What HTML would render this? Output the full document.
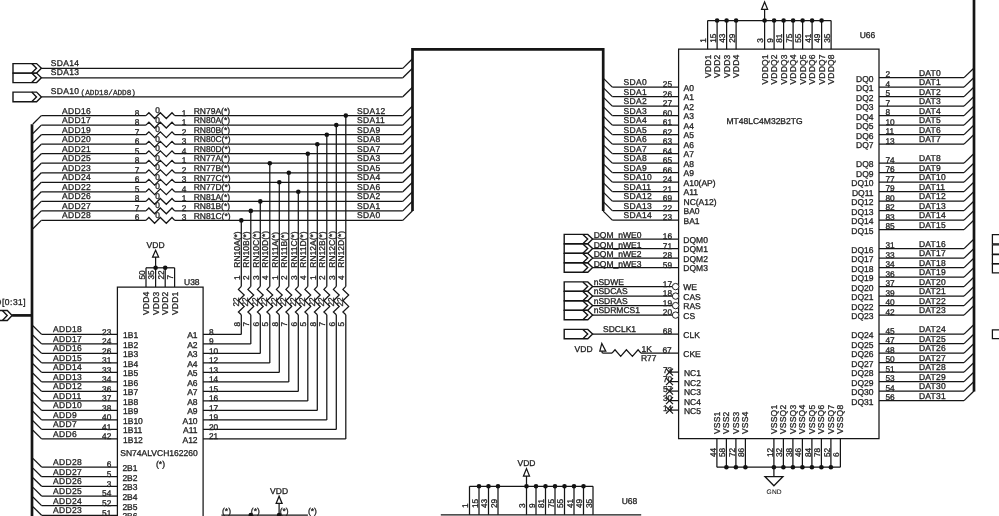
<!DOCTYPE html>
<html><head><meta charset="utf-8"><style>
html,body{margin:0;padding:0;background:#fff;width:999px;height:516px;overflow:hidden}
svg{display:block}
text{font-family:"Liberation Sans",sans-serif;stroke:#222;stroke-width:0.3px;text-rendering:geometricPrecision}
.mono{stroke-width:0.25px;font-family:"Liberation Mono",monospace}
.gnd{stroke-width:0.1px}
</style></head><body>
<svg width="999" height="516" viewBox="0 0 999 516" style="will-change:transform">
<rect width="999" height="516" fill="#fff"/>
<polygon points="13.0,63.6 36.6,63.6 41.4,68.3 36.6,73.1 13.0,73.1" stroke="#151515" stroke-width="1.4" fill="none" stroke-linejoin="miter"/>
<polyline points="31.7,63.6 36.5,68.3 31.7,73.1" stroke="#151515" stroke-width="1.4" fill="none" stroke-linejoin="miter"/>
<line x1="41.4" y1="68.4" x2="402.8" y2="68.4" stroke="#151515" stroke-width="1.25"/>
<line x1="402.8" y1="68.4" x2="412.5" y2="58.8" stroke="#151515" stroke-width="1.25"/>
<text x="50.8" y="66.0" font-size="8.5" letter-spacing="0.3" fill="#222">SDA14</text>
<polygon points="13.0,73.1 36.6,73.1 41.4,77.8 36.6,82.6 13.0,82.6" stroke="#151515" stroke-width="1.4" fill="none" stroke-linejoin="miter"/>
<polyline points="31.7,73.1 36.5,77.8 31.7,82.6" stroke="#151515" stroke-width="1.4" fill="none" stroke-linejoin="miter"/>
<line x1="41.4" y1="77.8" x2="402.8" y2="77.8" stroke="#151515" stroke-width="1.25"/>
<line x1="402.8" y1="77.8" x2="412.5" y2="68.2" stroke="#151515" stroke-width="1.25"/>
<text x="50.8" y="75.4" font-size="8.5" letter-spacing="0.3" fill="#222">SDA13</text>
<polygon points="13.0,92.1 36.6,92.1 41.4,96.9 36.6,101.7 13.0,101.7" stroke="#151515" stroke-width="1.4" fill="none" stroke-linejoin="miter"/>
<polyline points="31.7,92.1 36.5,96.9 31.7,101.7" stroke="#151515" stroke-width="1.4" fill="none" stroke-linejoin="miter"/>
<line x1="41.4" y1="96.8" x2="402.8" y2="96.8" stroke="#151515" stroke-width="1.25"/>
<line x1="402.8" y1="96.8" x2="412.5" y2="87.2" stroke="#151515" stroke-width="1.25"/>
<text x="50.8" y="94.4" font-size="8.5" letter-spacing="0.3" fill="#222">SDA10</text>
<text x="80.6" y="94.8" font-size="7.7" letter-spacing="0.0" font-family="Liberation Mono" class="mono" fill="#222">(ADD18/ADD8)</text>
<polyline points="412.5,211.0 412.5,49.3 603.2,49.3 603.2,211.0" stroke="#151515" stroke-width="2.7" fill="none" stroke-linejoin="miter"/>
<line x1="32.0" y1="124.3" x2="32.0" y2="516.0" stroke="#151515" stroke-width="2.7"/>
<line x1="12.1" y1="315.4" x2="32.0" y2="315.4" stroke="#151515" stroke-width="2.7"/>
<polygon points="-3.0,310.5 7.3,310.5 12.1,315.5 7.3,320.5 -3.0,320.5" stroke="#151515" stroke-width="1.4" fill="none" stroke-linejoin="miter"/>
<polyline points="2.4,310.5 7.2,315.5 2.4,320.5" stroke="#151515" stroke-width="1.4" fill="none" stroke-linejoin="miter"/>
<text x="26.2" y="304.7" font-size="8.5" letter-spacing="0.5" text-anchor="end" fill="#222">D[0:31]</text>
<line x1="41.3" y1="115.6" x2="145.9" y2="115.6" stroke="#151515" stroke-width="1.25"/>
<line x1="41.3" y1="115.6" x2="32.9" y2="124.0" stroke="#151515" stroke-width="1.25"/>
<polyline points="145.9,115.6 148.9,112.7 154.6,118.5 160.3,112.7 166.3,118.5 172.0,112.7 174.7,115.6" stroke="#151515" stroke-width="1.25" fill="none" stroke-linejoin="miter"/>
<line x1="174.7" y1="115.6" x2="402.8" y2="115.6" stroke="#151515" stroke-width="1.25"/>
<line x1="402.8" y1="115.6" x2="412.5" y2="106.0" stroke="#151515" stroke-width="1.25"/>
<text x="62.0" y="113.6" font-size="8.5" letter-spacing="0.35" fill="#222">ADD16</text>
<text x="134.8" y="115.5" font-size="8.3" letter-spacing="0" fill="#222">8</text>
<text x="155.2" y="113.0" font-size="8.3" letter-spacing="0" fill="#222">0</text>
<text x="181.7" y="115.5" font-size="8.3" letter-spacing="0" fill="#222">1</text>
<text x="193.7" y="113.8" font-size="8.5" letter-spacing="0" fill="#222">RN79A(*)</text>
<text x="357.0" y="113.6" font-size="8.5" letter-spacing="0.35" fill="#222">SDA12</text>
<line x1="41.3" y1="125.1" x2="145.9" y2="125.1" stroke="#151515" stroke-width="1.25"/>
<line x1="41.3" y1="125.1" x2="32.9" y2="133.5" stroke="#151515" stroke-width="1.25"/>
<polyline points="145.9,125.1 148.9,122.2 154.6,128.0 160.3,122.2 166.3,128.0 172.0,122.2 174.7,125.1" stroke="#151515" stroke-width="1.25" fill="none" stroke-linejoin="miter"/>
<line x1="174.7" y1="125.1" x2="402.8" y2="125.1" stroke="#151515" stroke-width="1.25"/>
<line x1="402.8" y1="125.1" x2="412.5" y2="115.5" stroke="#151515" stroke-width="1.25"/>
<text x="62.0" y="123.1" font-size="8.5" letter-spacing="0.35" fill="#222">ADD17</text>
<text x="134.8" y="125.0" font-size="8.3" letter-spacing="0" fill="#222">8</text>
<text x="155.2" y="122.5" font-size="8.3" letter-spacing="0" fill="#222">0</text>
<text x="181.7" y="125.0" font-size="8.3" letter-spacing="0" fill="#222">1</text>
<text x="193.7" y="123.3" font-size="8.5" letter-spacing="0" fill="#222">RN80A(*)</text>
<text x="357.0" y="123.1" font-size="8.5" letter-spacing="0.35" fill="#222">SDA11</text>
<line x1="41.3" y1="134.7" x2="145.9" y2="134.7" stroke="#151515" stroke-width="1.25"/>
<line x1="41.3" y1="134.7" x2="32.9" y2="143.1" stroke="#151515" stroke-width="1.25"/>
<polyline points="145.9,134.7 148.9,131.8 154.6,137.6 160.3,131.8 166.3,137.6 172.0,131.8 174.7,134.7" stroke="#151515" stroke-width="1.25" fill="none" stroke-linejoin="miter"/>
<line x1="174.7" y1="134.7" x2="402.8" y2="134.7" stroke="#151515" stroke-width="1.25"/>
<line x1="402.8" y1="134.7" x2="412.5" y2="125.1" stroke="#151515" stroke-width="1.25"/>
<text x="62.0" y="132.7" font-size="8.5" letter-spacing="0.35" fill="#222">ADD19</text>
<text x="134.8" y="134.6" font-size="8.3" letter-spacing="0" fill="#222">7</text>
<text x="155.2" y="132.1" font-size="8.3" letter-spacing="0" fill="#222">0</text>
<text x="181.7" y="134.6" font-size="8.3" letter-spacing="0" fill="#222">2</text>
<text x="193.7" y="132.9" font-size="8.5" letter-spacing="0" fill="#222">RN80B(*)</text>
<text x="357.0" y="132.7" font-size="8.5" letter-spacing="0.35" fill="#222">SDA9</text>
<line x1="41.3" y1="144.2" x2="145.9" y2="144.2" stroke="#151515" stroke-width="1.25"/>
<line x1="41.3" y1="144.2" x2="32.9" y2="152.6" stroke="#151515" stroke-width="1.25"/>
<polyline points="145.9,144.2 148.9,141.3 154.6,147.1 160.3,141.3 166.3,147.1 172.0,141.3 174.7,144.2" stroke="#151515" stroke-width="1.25" fill="none" stroke-linejoin="miter"/>
<line x1="174.7" y1="144.2" x2="402.8" y2="144.2" stroke="#151515" stroke-width="1.25"/>
<line x1="402.8" y1="144.2" x2="412.5" y2="134.6" stroke="#151515" stroke-width="1.25"/>
<text x="62.0" y="142.2" font-size="8.5" letter-spacing="0.35" fill="#222">ADD20</text>
<text x="134.8" y="144.1" font-size="8.3" letter-spacing="0" fill="#222">6</text>
<text x="155.2" y="141.6" font-size="8.3" letter-spacing="0" fill="#222">0</text>
<text x="181.7" y="144.1" font-size="8.3" letter-spacing="0" fill="#222">3</text>
<text x="193.7" y="142.4" font-size="8.5" letter-spacing="0" fill="#222">RN80C(*)</text>
<text x="357.0" y="142.2" font-size="8.5" letter-spacing="0.35" fill="#222">SDA8</text>
<line x1="41.3" y1="153.7" x2="145.9" y2="153.7" stroke="#151515" stroke-width="1.25"/>
<line x1="41.3" y1="153.7" x2="32.9" y2="162.1" stroke="#151515" stroke-width="1.25"/>
<polyline points="145.9,153.7 148.9,150.8 154.6,156.6 160.3,150.8 166.3,156.6 172.0,150.8 174.7,153.7" stroke="#151515" stroke-width="1.25" fill="none" stroke-linejoin="miter"/>
<line x1="174.7" y1="153.7" x2="402.8" y2="153.7" stroke="#151515" stroke-width="1.25"/>
<line x1="402.8" y1="153.7" x2="412.5" y2="144.1" stroke="#151515" stroke-width="1.25"/>
<text x="62.0" y="151.7" font-size="8.5" letter-spacing="0.35" fill="#222">ADD21</text>
<text x="134.8" y="153.6" font-size="8.3" letter-spacing="0" fill="#222">5</text>
<text x="155.2" y="151.1" font-size="8.3" letter-spacing="0" fill="#222">0</text>
<text x="181.7" y="153.6" font-size="8.3" letter-spacing="0" fill="#222">4</text>
<text x="193.7" y="151.9" font-size="8.5" letter-spacing="0" fill="#222">RN80D(*)</text>
<text x="357.0" y="151.7" font-size="8.5" letter-spacing="0.35" fill="#222">SDA7</text>
<line x1="41.3" y1="163.2" x2="145.9" y2="163.2" stroke="#151515" stroke-width="1.25"/>
<line x1="41.3" y1="163.2" x2="32.9" y2="171.7" stroke="#151515" stroke-width="1.25"/>
<polyline points="145.9,163.2 148.9,160.3 154.6,166.2 160.3,160.3 166.3,166.2 172.0,160.3 174.7,163.2" stroke="#151515" stroke-width="1.25" fill="none" stroke-linejoin="miter"/>
<line x1="174.7" y1="163.2" x2="402.8" y2="163.2" stroke="#151515" stroke-width="1.25"/>
<line x1="402.8" y1="163.2" x2="412.5" y2="153.7" stroke="#151515" stroke-width="1.25"/>
<text x="62.0" y="161.2" font-size="8.5" letter-spacing="0.35" fill="#222">ADD25</text>
<text x="134.8" y="163.2" font-size="8.3" letter-spacing="0" fill="#222">8</text>
<text x="155.2" y="160.7" font-size="8.3" letter-spacing="0" fill="#222">0</text>
<text x="181.7" y="163.2" font-size="8.3" letter-spacing="0" fill="#222">1</text>
<text x="193.7" y="161.4" font-size="8.5" letter-spacing="0" fill="#222">RN77A(*)</text>
<text x="357.0" y="161.2" font-size="8.5" letter-spacing="0.35" fill="#222">SDA3</text>
<line x1="41.3" y1="172.8" x2="145.9" y2="172.8" stroke="#151515" stroke-width="1.25"/>
<line x1="41.3" y1="172.8" x2="32.9" y2="181.2" stroke="#151515" stroke-width="1.25"/>
<polyline points="145.9,172.8 148.9,169.9 154.6,175.7 160.3,169.9 166.3,175.7 172.0,169.9 174.7,172.8" stroke="#151515" stroke-width="1.25" fill="none" stroke-linejoin="miter"/>
<line x1="174.7" y1="172.8" x2="402.8" y2="172.8" stroke="#151515" stroke-width="1.25"/>
<line x1="402.8" y1="172.8" x2="412.5" y2="163.2" stroke="#151515" stroke-width="1.25"/>
<text x="62.0" y="170.8" font-size="8.5" letter-spacing="0.35" fill="#222">ADD23</text>
<text x="134.8" y="172.7" font-size="8.3" letter-spacing="0" fill="#222">7</text>
<text x="155.2" y="170.2" font-size="8.3" letter-spacing="0" fill="#222">0</text>
<text x="181.7" y="172.7" font-size="8.3" letter-spacing="0" fill="#222">2</text>
<text x="193.7" y="171.0" font-size="8.5" letter-spacing="0" fill="#222">RN77B(*)</text>
<text x="357.0" y="170.8" font-size="8.5" letter-spacing="0.35" fill="#222">SDA5</text>
<line x1="41.3" y1="182.3" x2="145.9" y2="182.3" stroke="#151515" stroke-width="1.25"/>
<line x1="41.3" y1="182.3" x2="32.9" y2="190.7" stroke="#151515" stroke-width="1.25"/>
<polyline points="145.9,182.3 148.9,179.4 154.6,185.2 160.3,179.4 166.3,185.2 172.0,179.4 174.7,182.3" stroke="#151515" stroke-width="1.25" fill="none" stroke-linejoin="miter"/>
<line x1="174.7" y1="182.3" x2="402.8" y2="182.3" stroke="#151515" stroke-width="1.25"/>
<line x1="402.8" y1="182.3" x2="412.5" y2="172.7" stroke="#151515" stroke-width="1.25"/>
<text x="62.0" y="180.3" font-size="8.5" letter-spacing="0.35" fill="#222">ADD24</text>
<text x="134.8" y="182.2" font-size="8.3" letter-spacing="0" fill="#222">6</text>
<text x="155.2" y="179.7" font-size="8.3" letter-spacing="0" fill="#222">0</text>
<text x="181.7" y="182.2" font-size="8.3" letter-spacing="0" fill="#222">3</text>
<text x="193.7" y="180.5" font-size="8.5" letter-spacing="0" fill="#222">RN77C(*)</text>
<text x="357.0" y="180.3" font-size="8.5" letter-spacing="0.35" fill="#222">SDA4</text>
<line x1="41.3" y1="191.8" x2="145.9" y2="191.8" stroke="#151515" stroke-width="1.25"/>
<line x1="41.3" y1="191.8" x2="32.9" y2="200.2" stroke="#151515" stroke-width="1.25"/>
<polyline points="145.9,191.8 148.9,188.9 154.6,194.7 160.3,188.9 166.3,194.7 172.0,188.9 174.7,191.8" stroke="#151515" stroke-width="1.25" fill="none" stroke-linejoin="miter"/>
<line x1="174.7" y1="191.8" x2="402.8" y2="191.8" stroke="#151515" stroke-width="1.25"/>
<line x1="402.8" y1="191.8" x2="412.5" y2="182.2" stroke="#151515" stroke-width="1.25"/>
<text x="62.0" y="189.8" font-size="8.5" letter-spacing="0.35" fill="#222">ADD22</text>
<text x="134.8" y="191.7" font-size="8.3" letter-spacing="0" fill="#222">5</text>
<text x="155.2" y="189.2" font-size="8.3" letter-spacing="0" fill="#222">0</text>
<text x="181.7" y="191.7" font-size="8.3" letter-spacing="0" fill="#222">4</text>
<text x="193.7" y="190.0" font-size="8.5" letter-spacing="0" fill="#222">RN77D(*)</text>
<text x="357.0" y="189.8" font-size="8.5" letter-spacing="0.35" fill="#222">SDA6</text>
<line x1="41.3" y1="201.4" x2="145.9" y2="201.4" stroke="#151515" stroke-width="1.25"/>
<line x1="41.3" y1="201.4" x2="32.9" y2="209.8" stroke="#151515" stroke-width="1.25"/>
<polyline points="145.9,201.4 148.9,198.5 154.6,204.3 160.3,198.5 166.3,204.3 172.0,198.5 174.7,201.4" stroke="#151515" stroke-width="1.25" fill="none" stroke-linejoin="miter"/>
<line x1="174.7" y1="201.4" x2="402.8" y2="201.4" stroke="#151515" stroke-width="1.25"/>
<line x1="402.8" y1="201.4" x2="412.5" y2="191.8" stroke="#151515" stroke-width="1.25"/>
<text x="62.0" y="199.4" font-size="8.5" letter-spacing="0.35" fill="#222">ADD26</text>
<text x="134.8" y="201.3" font-size="8.3" letter-spacing="0" fill="#222">8</text>
<text x="155.2" y="198.8" font-size="8.3" letter-spacing="0" fill="#222">0</text>
<text x="181.7" y="201.3" font-size="8.3" letter-spacing="0" fill="#222">1</text>
<text x="193.7" y="199.6" font-size="8.5" letter-spacing="0" fill="#222">RN81A(*)</text>
<text x="357.0" y="199.4" font-size="8.5" letter-spacing="0.35" fill="#222">SDA2</text>
<line x1="41.3" y1="210.9" x2="145.9" y2="210.9" stroke="#151515" stroke-width="1.25"/>
<line x1="41.3" y1="210.9" x2="32.9" y2="219.3" stroke="#151515" stroke-width="1.25"/>
<polyline points="145.9,210.9 148.9,208.0 154.6,213.8 160.3,208.0 166.3,213.8 172.0,208.0 174.7,210.9" stroke="#151515" stroke-width="1.25" fill="none" stroke-linejoin="miter"/>
<line x1="174.7" y1="210.9" x2="402.8" y2="210.9" stroke="#151515" stroke-width="1.25"/>
<line x1="402.8" y1="210.9" x2="412.5" y2="201.3" stroke="#151515" stroke-width="1.25"/>
<text x="62.0" y="208.9" font-size="8.5" letter-spacing="0.35" fill="#222">ADD27</text>
<text x="134.8" y="210.8" font-size="8.3" letter-spacing="0" fill="#222">7</text>
<text x="155.2" y="208.3" font-size="8.3" letter-spacing="0" fill="#222">0</text>
<text x="181.7" y="210.8" font-size="8.3" letter-spacing="0" fill="#222">2</text>
<text x="193.7" y="209.1" font-size="8.5" letter-spacing="0" fill="#222">RN81B(*)</text>
<text x="357.0" y="208.9" font-size="8.5" letter-spacing="0.35" fill="#222">SDA1</text>
<line x1="41.3" y1="220.4" x2="145.9" y2="220.4" stroke="#151515" stroke-width="1.25"/>
<line x1="41.3" y1="220.4" x2="32.9" y2="228.8" stroke="#151515" stroke-width="1.25"/>
<polyline points="145.9,220.4 148.9,217.5 154.6,223.3 160.3,217.5 166.3,223.3 172.0,217.5 174.7,220.4" stroke="#151515" stroke-width="1.25" fill="none" stroke-linejoin="miter"/>
<line x1="174.7" y1="220.4" x2="402.8" y2="220.4" stroke="#151515" stroke-width="1.25"/>
<line x1="402.8" y1="220.4" x2="412.5" y2="210.8" stroke="#151515" stroke-width="1.25"/>
<text x="62.0" y="218.4" font-size="8.5" letter-spacing="0.35" fill="#222">ADD28</text>
<text x="134.8" y="220.3" font-size="8.3" letter-spacing="0" fill="#222">6</text>
<text x="155.2" y="217.8" font-size="8.3" letter-spacing="0" fill="#222">0</text>
<text x="181.7" y="220.3" font-size="8.3" letter-spacing="0" fill="#222">3</text>
<text x="193.7" y="218.6" font-size="8.5" letter-spacing="0" fill="#222">RN81C(*)</text>
<text x="357.0" y="218.4" font-size="8.5" letter-spacing="0.35" fill="#222">SDA0</text>
<circle cx="241.3" cy="220.4" r="2.3" fill="#111"/>
<line x1="241.3" y1="220.4" x2="241.3" y2="286.4" stroke="#151515" stroke-width="1.25"/>
<polyline points="241.3,286.4 238.4,289.4 244.2,295.0 238.4,300.7 244.2,306.4 238.4,312.0 241.3,314.7" stroke="#151515" stroke-width="1.25" fill="none" stroke-linejoin="miter"/>
<line x1="241.3" y1="314.7" x2="241.3" y2="334.4" stroke="#151515" stroke-width="1.25"/>
<line x1="203.1" y1="334.4" x2="241.3" y2="334.4" stroke="#151515" stroke-width="1.25"/>
<text transform="translate(239.8,267.7) rotate(-90)" font-size="8.5" letter-spacing="0" fill="#222">RN10A(*)</text>
<text transform="translate(239.8,280.0) rotate(-90)" font-size="8.3" letter-spacing="0" fill="#222">1</text>
<text transform="translate(239.8,326.5) rotate(-90)" font-size="8.3" letter-spacing="0" fill="#222">8</text>
<text transform="translate(238.7,306.5) rotate(-90)" font-size="8.3" letter-spacing="0" fill="#222">22</text>
<circle cx="250.8" cy="210.9" r="2.3" fill="#111"/>
<line x1="250.8" y1="210.9" x2="250.8" y2="286.4" stroke="#151515" stroke-width="1.25"/>
<polyline points="250.8,286.4 247.9,289.4 253.7,295.0 247.9,300.7 253.7,306.4 247.9,312.0 250.8,314.7" stroke="#151515" stroke-width="1.25" fill="none" stroke-linejoin="miter"/>
<line x1="250.8" y1="314.7" x2="250.8" y2="343.9" stroke="#151515" stroke-width="1.25"/>
<line x1="203.1" y1="343.9" x2="250.8" y2="343.9" stroke="#151515" stroke-width="1.25"/>
<text transform="translate(249.3,267.7) rotate(-90)" font-size="8.5" letter-spacing="0" fill="#222">RN10B(*)</text>
<text transform="translate(249.3,280.0) rotate(-90)" font-size="8.3" letter-spacing="0" fill="#222">2</text>
<text transform="translate(249.3,326.5) rotate(-90)" font-size="8.3" letter-spacing="0" fill="#222">7</text>
<text transform="translate(248.2,306.5) rotate(-90)" font-size="8.3" letter-spacing="0" fill="#222">22</text>
<circle cx="260.3" cy="201.4" r="2.3" fill="#111"/>
<line x1="260.3" y1="201.4" x2="260.3" y2="286.4" stroke="#151515" stroke-width="1.25"/>
<polyline points="260.3,286.4 257.4,289.4 263.2,295.0 257.4,300.7 263.2,306.4 257.4,312.0 260.3,314.7" stroke="#151515" stroke-width="1.25" fill="none" stroke-linejoin="miter"/>
<line x1="260.3" y1="314.7" x2="260.3" y2="353.4" stroke="#151515" stroke-width="1.25"/>
<line x1="203.1" y1="353.4" x2="260.3" y2="353.4" stroke="#151515" stroke-width="1.25"/>
<text transform="translate(258.8,267.7) rotate(-90)" font-size="8.5" letter-spacing="0" fill="#222">RN10C(*)</text>
<text transform="translate(258.8,280.0) rotate(-90)" font-size="8.3" letter-spacing="0" fill="#222">3</text>
<text transform="translate(258.8,326.5) rotate(-90)" font-size="8.3" letter-spacing="0" fill="#222">6</text>
<text transform="translate(257.7,306.5) rotate(-90)" font-size="8.3" letter-spacing="0" fill="#222">22</text>
<circle cx="269.8" cy="163.2" r="2.3" fill="#111"/>
<line x1="269.8" y1="163.2" x2="269.8" y2="286.4" stroke="#151515" stroke-width="1.25"/>
<polyline points="269.8,286.4 266.9,289.4 272.7,295.0 266.9,300.7 272.7,306.4 266.9,312.0 269.8,314.7" stroke="#151515" stroke-width="1.25" fill="none" stroke-linejoin="miter"/>
<line x1="269.8" y1="314.7" x2="269.8" y2="362.9" stroke="#151515" stroke-width="1.25"/>
<line x1="203.1" y1="362.9" x2="269.8" y2="362.9" stroke="#151515" stroke-width="1.25"/>
<text transform="translate(268.3,267.7) rotate(-90)" font-size="8.5" letter-spacing="0" fill="#222">RN10D(*)</text>
<text transform="translate(268.3,280.0) rotate(-90)" font-size="8.3" letter-spacing="0" fill="#222">4</text>
<text transform="translate(268.3,326.5) rotate(-90)" font-size="8.3" letter-spacing="0" fill="#222">5</text>
<text transform="translate(267.2,306.5) rotate(-90)" font-size="8.3" letter-spacing="0" fill="#222">22</text>
<circle cx="279.3" cy="182.3" r="2.3" fill="#111"/>
<line x1="279.3" y1="182.3" x2="279.3" y2="286.4" stroke="#151515" stroke-width="1.25"/>
<polyline points="279.3,286.4 276.4,289.4 282.2,295.0 276.4,300.7 282.2,306.4 276.4,312.0 279.3,314.7" stroke="#151515" stroke-width="1.25" fill="none" stroke-linejoin="miter"/>
<line x1="279.3" y1="314.7" x2="279.3" y2="372.4" stroke="#151515" stroke-width="1.25"/>
<line x1="203.1" y1="372.4" x2="279.3" y2="372.4" stroke="#151515" stroke-width="1.25"/>
<text transform="translate(277.8,267.7) rotate(-90)" font-size="8.5" letter-spacing="0" fill="#222">RN11A(*)</text>
<text transform="translate(277.8,280.0) rotate(-90)" font-size="8.3" letter-spacing="0" fill="#222">1</text>
<text transform="translate(277.8,326.5) rotate(-90)" font-size="8.3" letter-spacing="0" fill="#222">8</text>
<text transform="translate(276.7,306.5) rotate(-90)" font-size="8.3" letter-spacing="0" fill="#222">22</text>
<circle cx="288.8" cy="172.8" r="2.3" fill="#111"/>
<line x1="288.8" y1="172.8" x2="288.8" y2="286.4" stroke="#151515" stroke-width="1.25"/>
<polyline points="288.8,286.4 285.9,289.4 291.7,295.0 285.9,300.7 291.7,306.4 285.9,312.0 288.8,314.7" stroke="#151515" stroke-width="1.25" fill="none" stroke-linejoin="miter"/>
<line x1="288.8" y1="314.7" x2="288.8" y2="381.9" stroke="#151515" stroke-width="1.25"/>
<line x1="203.1" y1="381.9" x2="288.8" y2="381.9" stroke="#151515" stroke-width="1.25"/>
<text transform="translate(287.3,267.7) rotate(-90)" font-size="8.5" letter-spacing="0" fill="#222">RN11B(*)</text>
<text transform="translate(287.3,280.0) rotate(-90)" font-size="8.3" letter-spacing="0" fill="#222">2</text>
<text transform="translate(287.3,326.5) rotate(-90)" font-size="8.3" letter-spacing="0" fill="#222">7</text>
<text transform="translate(286.2,306.5) rotate(-90)" font-size="8.3" letter-spacing="0" fill="#222">22</text>
<circle cx="298.3" cy="191.8" r="2.3" fill="#111"/>
<line x1="298.3" y1="191.8" x2="298.3" y2="286.4" stroke="#151515" stroke-width="1.25"/>
<polyline points="298.3,286.4 295.4,289.4 301.2,295.0 295.4,300.7 301.2,306.4 295.4,312.0 298.3,314.7" stroke="#151515" stroke-width="1.25" fill="none" stroke-linejoin="miter"/>
<line x1="298.3" y1="314.7" x2="298.3" y2="391.4" stroke="#151515" stroke-width="1.25"/>
<line x1="203.1" y1="391.4" x2="298.3" y2="391.4" stroke="#151515" stroke-width="1.25"/>
<text transform="translate(296.8,267.7) rotate(-90)" font-size="8.5" letter-spacing="0" fill="#222">RN11C(*)</text>
<text transform="translate(296.8,280.0) rotate(-90)" font-size="8.3" letter-spacing="0" fill="#222">3</text>
<text transform="translate(296.8,326.5) rotate(-90)" font-size="8.3" letter-spacing="0" fill="#222">6</text>
<text transform="translate(295.7,306.5) rotate(-90)" font-size="8.3" letter-spacing="0" fill="#222">22</text>
<circle cx="307.8" cy="153.7" r="2.3" fill="#111"/>
<line x1="307.8" y1="153.7" x2="307.8" y2="286.4" stroke="#151515" stroke-width="1.25"/>
<polyline points="307.8,286.4 304.9,289.4 310.7,295.0 304.9,300.7 310.7,306.4 304.9,312.0 307.8,314.7" stroke="#151515" stroke-width="1.25" fill="none" stroke-linejoin="miter"/>
<line x1="307.8" y1="314.7" x2="307.8" y2="400.9" stroke="#151515" stroke-width="1.25"/>
<line x1="203.1" y1="400.9" x2="307.8" y2="400.9" stroke="#151515" stroke-width="1.25"/>
<text transform="translate(306.3,267.7) rotate(-90)" font-size="8.5" letter-spacing="0" fill="#222">RN11D(*)</text>
<text transform="translate(306.3,280.0) rotate(-90)" font-size="8.3" letter-spacing="0" fill="#222">4</text>
<text transform="translate(306.3,326.5) rotate(-90)" font-size="8.3" letter-spacing="0" fill="#222">5</text>
<text transform="translate(305.2,306.5) rotate(-90)" font-size="8.3" letter-spacing="0" fill="#222">22</text>
<circle cx="317.3" cy="144.2" r="2.3" fill="#111"/>
<line x1="317.3" y1="144.2" x2="317.3" y2="286.4" stroke="#151515" stroke-width="1.25"/>
<polyline points="317.3,286.4 314.4,289.4 320.2,295.0 314.4,300.7 320.2,306.4 314.4,312.0 317.3,314.7" stroke="#151515" stroke-width="1.25" fill="none" stroke-linejoin="miter"/>
<line x1="317.3" y1="314.7" x2="317.3" y2="410.4" stroke="#151515" stroke-width="1.25"/>
<line x1="203.1" y1="410.4" x2="317.3" y2="410.4" stroke="#151515" stroke-width="1.25"/>
<text transform="translate(315.8,267.7) rotate(-90)" font-size="8.5" letter-spacing="0" fill="#222">RN12A(*)</text>
<text transform="translate(315.8,280.0) rotate(-90)" font-size="8.3" letter-spacing="0" fill="#222">1</text>
<text transform="translate(315.8,326.5) rotate(-90)" font-size="8.3" letter-spacing="0" fill="#222">8</text>
<text transform="translate(314.7,306.5) rotate(-90)" font-size="8.3" letter-spacing="0" fill="#222">22</text>
<circle cx="326.8" cy="134.7" r="2.3" fill="#111"/>
<line x1="326.8" y1="134.7" x2="326.8" y2="286.4" stroke="#151515" stroke-width="1.25"/>
<polyline points="326.8,286.4 323.9,289.4 329.7,295.0 323.9,300.7 329.7,306.4 323.9,312.0 326.8,314.7" stroke="#151515" stroke-width="1.25" fill="none" stroke-linejoin="miter"/>
<line x1="326.8" y1="314.7" x2="326.8" y2="419.9" stroke="#151515" stroke-width="1.25"/>
<line x1="203.1" y1="419.9" x2="326.8" y2="419.9" stroke="#151515" stroke-width="1.25"/>
<text transform="translate(325.3,267.7) rotate(-90)" font-size="8.5" letter-spacing="0" fill="#222">RN12B(*)</text>
<text transform="translate(325.3,280.0) rotate(-90)" font-size="8.3" letter-spacing="0" fill="#222">2</text>
<text transform="translate(325.3,326.5) rotate(-90)" font-size="8.3" letter-spacing="0" fill="#222">7</text>
<text transform="translate(324.2,306.5) rotate(-90)" font-size="8.3" letter-spacing="0" fill="#222">22</text>
<circle cx="336.3" cy="125.1" r="2.3" fill="#111"/>
<line x1="336.3" y1="125.1" x2="336.3" y2="286.4" stroke="#151515" stroke-width="1.25"/>
<polyline points="336.3,286.4 333.4,289.4 339.2,295.0 333.4,300.7 339.2,306.4 333.4,312.0 336.3,314.7" stroke="#151515" stroke-width="1.25" fill="none" stroke-linejoin="miter"/>
<line x1="336.3" y1="314.7" x2="336.3" y2="429.4" stroke="#151515" stroke-width="1.25"/>
<line x1="203.1" y1="429.4" x2="336.3" y2="429.4" stroke="#151515" stroke-width="1.25"/>
<text transform="translate(334.8,267.7) rotate(-90)" font-size="8.5" letter-spacing="0" fill="#222">RN12C(*)</text>
<text transform="translate(334.8,280.0) rotate(-90)" font-size="8.3" letter-spacing="0" fill="#222">3</text>
<text transform="translate(334.8,326.5) rotate(-90)" font-size="8.3" letter-spacing="0" fill="#222">6</text>
<text transform="translate(333.7,306.5) rotate(-90)" font-size="8.3" letter-spacing="0" fill="#222">22</text>
<circle cx="345.8" cy="115.6" r="2.3" fill="#111"/>
<line x1="345.8" y1="115.6" x2="345.8" y2="286.4" stroke="#151515" stroke-width="1.25"/>
<polyline points="345.8,286.4 342.9,289.4 348.7,295.0 342.9,300.7 348.7,306.4 342.9,312.0 345.8,314.7" stroke="#151515" stroke-width="1.25" fill="none" stroke-linejoin="miter"/>
<line x1="345.8" y1="314.7" x2="345.8" y2="438.9" stroke="#151515" stroke-width="1.25"/>
<line x1="203.1" y1="438.9" x2="345.8" y2="438.9" stroke="#151515" stroke-width="1.25"/>
<text transform="translate(344.3,267.7) rotate(-90)" font-size="8.5" letter-spacing="0" fill="#222">RN12D(*)</text>
<text transform="translate(344.3,280.0) rotate(-90)" font-size="8.3" letter-spacing="0" fill="#222">4</text>
<text transform="translate(344.3,326.5) rotate(-90)" font-size="8.3" letter-spacing="0" fill="#222">5</text>
<text transform="translate(343.2,306.5) rotate(-90)" font-size="8.3" letter-spacing="0" fill="#222">22</text>
<polyline points="117.4,520.0 117.4,287.0 203.1,287.0 203.1,520.0" stroke="#151515" stroke-width="1.25" fill="none" stroke-linejoin="miter"/>
<text x="184.0" y="285.2" font-size="8.5" letter-spacing="0" fill="#222">U38</text>
<line x1="146.0" y1="287.0" x2="146.0" y2="267.8" stroke="#151515" stroke-width="1.25"/>
<line x1="155.6" y1="287.0" x2="155.6" y2="267.8" stroke="#151515" stroke-width="1.25"/>
<line x1="165.2" y1="287.0" x2="165.2" y2="267.8" stroke="#151515" stroke-width="1.25"/>
<line x1="174.6" y1="287.0" x2="174.6" y2="267.8" stroke="#151515" stroke-width="1.25"/>
<line x1="146.0" y1="267.8" x2="174.6" y2="267.8" stroke="#151515" stroke-width="1.25"/>
<circle cx="155.6" cy="267.8" r="2.3" fill="#111"/>
<circle cx="165.2" cy="267.8" r="2.3" fill="#111"/>
<line x1="155.6" y1="267.8" x2="155.6" y2="257.0" stroke="#151515" stroke-width="1.25"/>
<polygon points="152.6,257.0 155.6,250.2 158.6,257.0" stroke="#151515" stroke-width="1.25" fill="#fff" stroke-linejoin="miter"/>
<text x="155.6" y="247.6" font-size="8.5" letter-spacing="0" text-anchor="middle" fill="#222">VDD</text>
<text transform="translate(144.8,279.5) rotate(-90)" font-size="8.3" letter-spacing="0" fill="#222">50</text>
<text transform="translate(149.0,315.0) rotate(-90)" font-size="8.5" letter-spacing="0.2" fill="#222">VDD4</text>
<text transform="translate(154.4,279.5) rotate(-90)" font-size="8.3" letter-spacing="0" fill="#222">35</text>
<text transform="translate(158.6,315.0) rotate(-90)" font-size="8.5" letter-spacing="0.2" fill="#222">VDD3</text>
<text transform="translate(164.0,279.5) rotate(-90)" font-size="8.3" letter-spacing="0" fill="#222">22</text>
<text transform="translate(168.2,315.0) rotate(-90)" font-size="8.5" letter-spacing="0.2" fill="#222">VDD2</text>
<text transform="translate(173.4,279.5) rotate(-90)" font-size="8.3" letter-spacing="0" fill="#222">7</text>
<text transform="translate(177.6,315.0) rotate(-90)" font-size="8.5" letter-spacing="0.2" fill="#222">VDD1</text>
<line x1="32.9" y1="325.8" x2="41.6" y2="334.4" stroke="#151515" stroke-width="1.25"/>
<line x1="41.6" y1="334.4" x2="117.4" y2="334.4" stroke="#151515" stroke-width="1.25"/>
<text x="53.0" y="332.4" font-size="8.5" letter-spacing="0.35" fill="#222">ADD18</text>
<text x="111.3" y="334.6" font-size="8.3" letter-spacing="0" text-anchor="end" fill="#222">23</text>
<text x="123.0" y="338.0" font-size="8.5" letter-spacing="0" fill="#222">1B1</text>
<text x="197.6" y="338.0" font-size="8.5" letter-spacing="0" text-anchor="end" fill="#222">A1</text>
<text x="209.0" y="334.6" font-size="8.3" letter-spacing="0" fill="#222">8</text>
<line x1="32.9" y1="335.3" x2="41.6" y2="343.9" stroke="#151515" stroke-width="1.25"/>
<line x1="41.6" y1="343.9" x2="117.4" y2="343.9" stroke="#151515" stroke-width="1.25"/>
<text x="53.0" y="341.9" font-size="8.5" letter-spacing="0.35" fill="#222">ADD17</text>
<text x="111.3" y="344.1" font-size="8.3" letter-spacing="0" text-anchor="end" fill="#222">24</text>
<text x="123.0" y="347.5" font-size="8.5" letter-spacing="0" fill="#222">1B2</text>
<text x="197.6" y="347.5" font-size="8.5" letter-spacing="0" text-anchor="end" fill="#222">A2</text>
<text x="209.0" y="344.1" font-size="8.3" letter-spacing="0" fill="#222">9</text>
<line x1="32.9" y1="344.8" x2="41.6" y2="353.4" stroke="#151515" stroke-width="1.25"/>
<line x1="41.6" y1="353.4" x2="117.4" y2="353.4" stroke="#151515" stroke-width="1.25"/>
<text x="53.0" y="351.4" font-size="8.5" letter-spacing="0.35" fill="#222">ADD16</text>
<text x="111.3" y="353.6" font-size="8.3" letter-spacing="0" text-anchor="end" fill="#222">26</text>
<text x="123.0" y="357.0" font-size="8.5" letter-spacing="0" fill="#222">1B3</text>
<text x="197.6" y="357.0" font-size="8.5" letter-spacing="0" text-anchor="end" fill="#222">A3</text>
<text x="209.0" y="353.6" font-size="8.3" letter-spacing="0" fill="#222">10</text>
<line x1="32.9" y1="354.3" x2="41.6" y2="362.9" stroke="#151515" stroke-width="1.25"/>
<line x1="41.6" y1="362.9" x2="117.4" y2="362.9" stroke="#151515" stroke-width="1.25"/>
<text x="53.0" y="360.9" font-size="8.5" letter-spacing="0.35" fill="#222">ADD15</text>
<text x="111.3" y="363.1" font-size="8.3" letter-spacing="0" text-anchor="end" fill="#222">31</text>
<text x="123.0" y="366.5" font-size="8.5" letter-spacing="0" fill="#222">1B4</text>
<text x="197.6" y="366.5" font-size="8.5" letter-spacing="0" text-anchor="end" fill="#222">A4</text>
<text x="209.0" y="363.1" font-size="8.3" letter-spacing="0" fill="#222">12</text>
<line x1="32.9" y1="363.8" x2="41.6" y2="372.4" stroke="#151515" stroke-width="1.25"/>
<line x1="41.6" y1="372.4" x2="117.4" y2="372.4" stroke="#151515" stroke-width="1.25"/>
<text x="53.0" y="370.4" font-size="8.5" letter-spacing="0.35" fill="#222">ADD14</text>
<text x="111.3" y="372.6" font-size="8.3" letter-spacing="0" text-anchor="end" fill="#222">33</text>
<text x="123.0" y="376.0" font-size="8.5" letter-spacing="0" fill="#222">1B5</text>
<text x="197.6" y="376.0" font-size="8.5" letter-spacing="0" text-anchor="end" fill="#222">A5</text>
<text x="209.0" y="372.6" font-size="8.3" letter-spacing="0" fill="#222">13</text>
<line x1="32.9" y1="373.3" x2="41.6" y2="381.9" stroke="#151515" stroke-width="1.25"/>
<line x1="41.6" y1="381.9" x2="117.4" y2="381.9" stroke="#151515" stroke-width="1.25"/>
<text x="53.0" y="379.9" font-size="8.5" letter-spacing="0.35" fill="#222">ADD13</text>
<text x="111.3" y="382.1" font-size="8.3" letter-spacing="0" text-anchor="end" fill="#222">34</text>
<text x="123.0" y="385.5" font-size="8.5" letter-spacing="0" fill="#222">1B6</text>
<text x="197.6" y="385.5" font-size="8.5" letter-spacing="0" text-anchor="end" fill="#222">A6</text>
<text x="209.0" y="382.1" font-size="8.3" letter-spacing="0" fill="#222">14</text>
<line x1="32.9" y1="382.8" x2="41.6" y2="391.4" stroke="#151515" stroke-width="1.25"/>
<line x1="41.6" y1="391.4" x2="117.4" y2="391.4" stroke="#151515" stroke-width="1.25"/>
<text x="53.0" y="389.4" font-size="8.5" letter-spacing="0.35" fill="#222">ADD12</text>
<text x="111.3" y="391.6" font-size="8.3" letter-spacing="0" text-anchor="end" fill="#222">36</text>
<text x="123.0" y="395.0" font-size="8.5" letter-spacing="0" fill="#222">1B7</text>
<text x="197.6" y="395.0" font-size="8.5" letter-spacing="0" text-anchor="end" fill="#222">A7</text>
<text x="209.0" y="391.6" font-size="8.3" letter-spacing="0" fill="#222">15</text>
<line x1="32.9" y1="392.3" x2="41.6" y2="400.9" stroke="#151515" stroke-width="1.25"/>
<line x1="41.6" y1="400.9" x2="117.4" y2="400.9" stroke="#151515" stroke-width="1.25"/>
<text x="53.0" y="398.9" font-size="8.5" letter-spacing="0.35" fill="#222">ADD11</text>
<text x="111.3" y="401.1" font-size="8.3" letter-spacing="0" text-anchor="end" fill="#222">37</text>
<text x="123.0" y="404.5" font-size="8.5" letter-spacing="0" fill="#222">1B8</text>
<text x="197.6" y="404.5" font-size="8.5" letter-spacing="0" text-anchor="end" fill="#222">A8</text>
<text x="209.0" y="401.1" font-size="8.3" letter-spacing="0" fill="#222">16</text>
<line x1="32.9" y1="401.8" x2="41.6" y2="410.4" stroke="#151515" stroke-width="1.25"/>
<line x1="41.6" y1="410.4" x2="117.4" y2="410.4" stroke="#151515" stroke-width="1.25"/>
<text x="53.0" y="408.4" font-size="8.5" letter-spacing="0.35" fill="#222">ADD10</text>
<text x="111.3" y="410.6" font-size="8.3" letter-spacing="0" text-anchor="end" fill="#222">38</text>
<text x="123.0" y="414.0" font-size="8.5" letter-spacing="0" fill="#222">1B9</text>
<text x="197.6" y="414.0" font-size="8.5" letter-spacing="0" text-anchor="end" fill="#222">A9</text>
<text x="209.0" y="410.6" font-size="8.3" letter-spacing="0" fill="#222">17</text>
<line x1="32.9" y1="411.3" x2="41.6" y2="419.9" stroke="#151515" stroke-width="1.25"/>
<line x1="41.6" y1="419.9" x2="117.4" y2="419.9" stroke="#151515" stroke-width="1.25"/>
<text x="53.0" y="417.9" font-size="8.5" letter-spacing="0.35" fill="#222">ADD9</text>
<text x="111.3" y="420.1" font-size="8.3" letter-spacing="0" text-anchor="end" fill="#222">40</text>
<text x="123.0" y="423.5" font-size="8.5" letter-spacing="0" fill="#222">1B10</text>
<text x="197.6" y="423.5" font-size="8.5" letter-spacing="0" text-anchor="end" fill="#222">A10</text>
<text x="209.0" y="420.1" font-size="8.3" letter-spacing="0" fill="#222">19</text>
<line x1="32.9" y1="420.8" x2="41.6" y2="429.4" stroke="#151515" stroke-width="1.25"/>
<line x1="41.6" y1="429.4" x2="117.4" y2="429.4" stroke="#151515" stroke-width="1.25"/>
<text x="53.0" y="427.4" font-size="8.5" letter-spacing="0.35" fill="#222">ADD7</text>
<text x="111.3" y="429.6" font-size="8.3" letter-spacing="0" text-anchor="end" fill="#222">41</text>
<text x="123.0" y="433.0" font-size="8.5" letter-spacing="0" fill="#222">1B11</text>
<text x="197.6" y="433.0" font-size="8.5" letter-spacing="0" text-anchor="end" fill="#222">A11</text>
<text x="209.0" y="429.6" font-size="8.3" letter-spacing="0" fill="#222">20</text>
<line x1="32.9" y1="430.3" x2="41.6" y2="438.9" stroke="#151515" stroke-width="1.25"/>
<line x1="41.6" y1="438.9" x2="117.4" y2="438.9" stroke="#151515" stroke-width="1.25"/>
<text x="53.0" y="436.9" font-size="8.5" letter-spacing="0.35" fill="#222">ADD6</text>
<text x="111.3" y="439.1" font-size="8.3" letter-spacing="0" text-anchor="end" fill="#222">42</text>
<text x="123.0" y="442.5" font-size="8.5" letter-spacing="0" fill="#222">1B12</text>
<text x="197.6" y="442.5" font-size="8.5" letter-spacing="0" text-anchor="end" fill="#222">A12</text>
<text x="209.0" y="439.1" font-size="8.3" letter-spacing="0" fill="#222">21</text>
<text x="120.3" y="455.6" font-size="8.5" letter-spacing="0" fill="#222">SN74ALVCH162260</text>
<text x="160.5" y="466.5" font-size="8.5" letter-spacing="0" text-anchor="middle" fill="#222">(*)</text>
<line x1="32.9" y1="458.4" x2="41.6" y2="467.0" stroke="#151515" stroke-width="1.25"/>
<line x1="41.6" y1="467.0" x2="117.4" y2="467.0" stroke="#151515" stroke-width="1.25"/>
<text x="53.0" y="465.0" font-size="8.5" letter-spacing="0.35" fill="#222">ADD28</text>
<text x="111.3" y="467.2" font-size="8.3" letter-spacing="0" text-anchor="end" fill="#222">6</text>
<text x="122.4" y="471.0" font-size="8.5" letter-spacing="0" fill="#222">2B1</text>
<line x1="32.9" y1="468.1" x2="41.6" y2="476.7" stroke="#151515" stroke-width="1.25"/>
<line x1="41.6" y1="476.7" x2="117.4" y2="476.7" stroke="#151515" stroke-width="1.25"/>
<text x="53.0" y="474.7" font-size="8.5" letter-spacing="0.35" fill="#222">ADD27</text>
<text x="111.3" y="476.9" font-size="8.3" letter-spacing="0" text-anchor="end" fill="#222">5</text>
<text x="122.4" y="480.7" font-size="8.5" letter-spacing="0" fill="#222">2B2</text>
<line x1="32.9" y1="477.7" x2="41.6" y2="486.3" stroke="#151515" stroke-width="1.25"/>
<line x1="41.6" y1="486.3" x2="117.4" y2="486.3" stroke="#151515" stroke-width="1.25"/>
<text x="53.0" y="484.3" font-size="8.5" letter-spacing="0.35" fill="#222">ADD26</text>
<text x="111.3" y="486.5" font-size="8.3" letter-spacing="0" text-anchor="end" fill="#222">3</text>
<text x="122.4" y="490.3" font-size="8.5" letter-spacing="0" fill="#222">2B3</text>
<line x1="32.9" y1="487.4" x2="41.6" y2="496.0" stroke="#151515" stroke-width="1.25"/>
<line x1="41.6" y1="496.0" x2="117.4" y2="496.0" stroke="#151515" stroke-width="1.25"/>
<text x="53.0" y="494.0" font-size="8.5" letter-spacing="0.35" fill="#222">ADD25</text>
<text x="111.3" y="496.2" font-size="8.3" letter-spacing="0" text-anchor="end" fill="#222">54</text>
<text x="122.4" y="500.0" font-size="8.5" letter-spacing="0" fill="#222">2B4</text>
<line x1="32.9" y1="497.0" x2="41.6" y2="505.6" stroke="#151515" stroke-width="1.25"/>
<line x1="41.6" y1="505.6" x2="117.4" y2="505.6" stroke="#151515" stroke-width="1.25"/>
<text x="53.0" y="503.6" font-size="8.5" letter-spacing="0.35" fill="#222">ADD24</text>
<text x="111.3" y="505.8" font-size="8.3" letter-spacing="0" text-anchor="end" fill="#222">52</text>
<text x="122.4" y="509.6" font-size="8.5" letter-spacing="0" fill="#222">2B5</text>
<line x1="32.9" y1="506.7" x2="41.6" y2="515.3" stroke="#151515" stroke-width="1.25"/>
<line x1="41.6" y1="515.3" x2="117.4" y2="515.3" stroke="#151515" stroke-width="1.25"/>
<text x="53.0" y="513.3" font-size="8.5" letter-spacing="0.35" fill="#222">ADD23</text>
<text x="111.3" y="515.5" font-size="8.3" letter-spacing="0" text-anchor="end" fill="#222">51</text>
<text x="122.4" y="519.3" font-size="8.5" letter-spacing="0" fill="#222">2B6</text>
<line x1="221.4" y1="515.1" x2="307.9" y2="515.1" stroke="#151515" stroke-width="1.25"/>
<circle cx="250.8" cy="515.1" r="2.3" fill="#111"/>
<circle cx="279.1" cy="515.1" r="2.3" fill="#111"/>
<line x1="279.1" y1="515.1" x2="279.1" y2="503.4" stroke="#151515" stroke-width="1.25"/>
<polygon points="276.1,503.4 279.1,496.2 282.1,503.4" stroke="#151515" stroke-width="1.25" fill="#fff" stroke-linejoin="miter"/>
<text x="279.1" y="494.4" font-size="8.5" letter-spacing="0" text-anchor="middle" fill="#222">VDD</text>
<text x="222.0" y="513.6" font-size="8.5" letter-spacing="0" fill="#222">(*)</text>
<text x="250.8" y="513.6" font-size="8.5" letter-spacing="0" fill="#222">(*)</text>
<text x="279.7" y="513.6" font-size="8.5" letter-spacing="0" fill="#222">(*)</text>
<text x="307.9" y="513.6" font-size="8.5" letter-spacing="0" fill="#222">(*)</text>
<polygon points="678.6,49.2 879.0,49.2 879.0,438.6 678.6,438.6" stroke="#151515" stroke-width="1.25" fill="none" stroke-linejoin="miter"/>
<text x="859.7" y="37.8" font-size="8.5" letter-spacing="0" fill="#222">U66</text>
<text x="726.5" y="123.5" font-size="8.5" letter-spacing="0" fill="#222">MT48LC4M32B2TG</text>
<line x1="603.2" y1="78.1" x2="612.3" y2="87.1" stroke="#151515" stroke-width="1.25"/>
<line x1="612.3" y1="87.1" x2="678.6" y2="87.1" stroke="#151515" stroke-width="1.25"/>
<text x="623.5" y="85.1" font-size="8.5" letter-spacing="0.3" fill="#222">SDA0</text>
<text x="672.0" y="87.3" font-size="8.3" letter-spacing="0" text-anchor="end" fill="#222">25</text>
<text x="683.5" y="90.9" font-size="8.5" letter-spacing="0" fill="#222">A0</text>
<line x1="603.2" y1="87.6" x2="612.3" y2="96.6" stroke="#151515" stroke-width="1.25"/>
<line x1="612.3" y1="96.6" x2="678.6" y2="96.6" stroke="#151515" stroke-width="1.25"/>
<text x="623.5" y="94.6" font-size="8.5" letter-spacing="0.3" fill="#222">SDA1</text>
<text x="672.0" y="96.8" font-size="8.3" letter-spacing="0" text-anchor="end" fill="#222">26</text>
<text x="683.5" y="100.4" font-size="8.5" letter-spacing="0" fill="#222">A1</text>
<line x1="603.2" y1="97.1" x2="612.3" y2="106.1" stroke="#151515" stroke-width="1.25"/>
<line x1="612.3" y1="106.1" x2="678.6" y2="106.1" stroke="#151515" stroke-width="1.25"/>
<text x="623.5" y="104.1" font-size="8.5" letter-spacing="0.3" fill="#222">SDA2</text>
<text x="672.0" y="106.3" font-size="8.3" letter-spacing="0" text-anchor="end" fill="#222">27</text>
<text x="683.5" y="109.9" font-size="8.5" letter-spacing="0" fill="#222">A2</text>
<line x1="603.2" y1="106.6" x2="612.3" y2="115.6" stroke="#151515" stroke-width="1.25"/>
<line x1="612.3" y1="115.6" x2="678.6" y2="115.6" stroke="#151515" stroke-width="1.25"/>
<text x="623.5" y="113.6" font-size="8.5" letter-spacing="0.3" fill="#222">SDA3</text>
<text x="672.0" y="115.8" font-size="8.3" letter-spacing="0" text-anchor="end" fill="#222">60</text>
<text x="683.5" y="119.4" font-size="8.5" letter-spacing="0" fill="#222">A3</text>
<line x1="603.2" y1="116.1" x2="612.3" y2="125.1" stroke="#151515" stroke-width="1.25"/>
<line x1="612.3" y1="125.1" x2="678.6" y2="125.1" stroke="#151515" stroke-width="1.25"/>
<text x="623.5" y="123.1" font-size="8.5" letter-spacing="0.3" fill="#222">SDA4</text>
<text x="672.0" y="125.3" font-size="8.3" letter-spacing="0" text-anchor="end" fill="#222">61</text>
<text x="683.5" y="128.9" font-size="8.5" letter-spacing="0" fill="#222">A4</text>
<line x1="603.2" y1="125.6" x2="612.3" y2="134.6" stroke="#151515" stroke-width="1.25"/>
<line x1="612.3" y1="134.6" x2="678.6" y2="134.6" stroke="#151515" stroke-width="1.25"/>
<text x="623.5" y="132.6" font-size="8.5" letter-spacing="0.3" fill="#222">SDA5</text>
<text x="672.0" y="134.8" font-size="8.3" letter-spacing="0" text-anchor="end" fill="#222">62</text>
<text x="683.5" y="138.4" font-size="8.5" letter-spacing="0" fill="#222">A5</text>
<line x1="603.2" y1="135.1" x2="612.3" y2="144.1" stroke="#151515" stroke-width="1.25"/>
<line x1="612.3" y1="144.1" x2="678.6" y2="144.1" stroke="#151515" stroke-width="1.25"/>
<text x="623.5" y="142.1" font-size="8.5" letter-spacing="0.3" fill="#222">SDA6</text>
<text x="672.0" y="144.3" font-size="8.3" letter-spacing="0" text-anchor="end" fill="#222">63</text>
<text x="683.5" y="147.9" font-size="8.5" letter-spacing="0" fill="#222">A6</text>
<line x1="603.2" y1="144.6" x2="612.3" y2="153.6" stroke="#151515" stroke-width="1.25"/>
<line x1="612.3" y1="153.6" x2="678.6" y2="153.6" stroke="#151515" stroke-width="1.25"/>
<text x="623.5" y="151.6" font-size="8.5" letter-spacing="0.3" fill="#222">SDA7</text>
<text x="672.0" y="153.8" font-size="8.3" letter-spacing="0" text-anchor="end" fill="#222">64</text>
<text x="683.5" y="157.4" font-size="8.5" letter-spacing="0" fill="#222">A7</text>
<line x1="603.2" y1="154.1" x2="612.3" y2="163.1" stroke="#151515" stroke-width="1.25"/>
<line x1="612.3" y1="163.1" x2="678.6" y2="163.1" stroke="#151515" stroke-width="1.25"/>
<text x="623.5" y="161.1" font-size="8.5" letter-spacing="0.3" fill="#222">SDA8</text>
<text x="672.0" y="163.3" font-size="8.3" letter-spacing="0" text-anchor="end" fill="#222">65</text>
<text x="683.5" y="166.9" font-size="8.5" letter-spacing="0" fill="#222">A8</text>
<line x1="603.2" y1="163.6" x2="612.3" y2="172.6" stroke="#151515" stroke-width="1.25"/>
<line x1="612.3" y1="172.6" x2="678.6" y2="172.6" stroke="#151515" stroke-width="1.25"/>
<text x="623.5" y="170.6" font-size="8.5" letter-spacing="0.3" fill="#222">SDA9</text>
<text x="672.0" y="172.8" font-size="8.3" letter-spacing="0" text-anchor="end" fill="#222">66</text>
<text x="683.5" y="176.4" font-size="8.5" letter-spacing="0" fill="#222">A9</text>
<line x1="603.2" y1="173.1" x2="612.3" y2="182.1" stroke="#151515" stroke-width="1.25"/>
<line x1="612.3" y1="182.1" x2="678.6" y2="182.1" stroke="#151515" stroke-width="1.25"/>
<text x="623.5" y="180.1" font-size="8.5" letter-spacing="0.3" fill="#222">SDA10</text>
<text x="672.0" y="182.3" font-size="8.3" letter-spacing="0" text-anchor="end" fill="#222">24</text>
<text x="683.5" y="185.9" font-size="8.5" letter-spacing="0" fill="#222">A10(AP)</text>
<line x1="603.2" y1="182.6" x2="612.3" y2="191.6" stroke="#151515" stroke-width="1.25"/>
<line x1="612.3" y1="191.6" x2="678.6" y2="191.6" stroke="#151515" stroke-width="1.25"/>
<text x="623.5" y="189.6" font-size="8.5" letter-spacing="0.3" fill="#222">SDA11</text>
<text x="672.0" y="191.8" font-size="8.3" letter-spacing="0" text-anchor="end" fill="#222">21</text>
<text x="683.5" y="195.4" font-size="8.5" letter-spacing="0" fill="#222">A11</text>
<line x1="603.2" y1="192.1" x2="612.3" y2="201.1" stroke="#151515" stroke-width="1.25"/>
<line x1="612.3" y1="201.1" x2="678.6" y2="201.1" stroke="#151515" stroke-width="1.25"/>
<text x="623.5" y="199.1" font-size="8.5" letter-spacing="0.3" fill="#222">SDA12</text>
<text x="672.0" y="201.3" font-size="8.3" letter-spacing="0" text-anchor="end" fill="#222">69</text>
<text x="683.5" y="204.9" font-size="8.5" letter-spacing="0" fill="#222">NC(A12)</text>
<line x1="603.2" y1="201.6" x2="612.3" y2="210.6" stroke="#151515" stroke-width="1.25"/>
<line x1="612.3" y1="210.6" x2="678.6" y2="210.6" stroke="#151515" stroke-width="1.25"/>
<text x="623.5" y="208.6" font-size="8.5" letter-spacing="0.3" fill="#222">SDA13</text>
<text x="672.0" y="210.8" font-size="8.3" letter-spacing="0" text-anchor="end" fill="#222">22</text>
<text x="683.5" y="214.4" font-size="8.5" letter-spacing="0" fill="#222">BA0</text>
<line x1="603.2" y1="211.1" x2="612.3" y2="220.1" stroke="#151515" stroke-width="1.25"/>
<line x1="612.3" y1="220.1" x2="678.6" y2="220.1" stroke="#151515" stroke-width="1.25"/>
<text x="623.5" y="218.1" font-size="8.5" letter-spacing="0.3" fill="#222">SDA14</text>
<text x="672.0" y="220.3" font-size="8.3" letter-spacing="0" text-anchor="end" fill="#222">23</text>
<text x="683.5" y="223.9" font-size="8.5" letter-spacing="0" fill="#222">BA1</text>
<polygon points="564.2,234.4 587.8,234.4 592.6,239.1 587.8,243.8 564.2,243.8" stroke="#151515" stroke-width="1.4" fill="none" stroke-linejoin="miter"/>
<polyline points="582.9,234.4 587.7,239.1 582.9,243.8" stroke="#151515" stroke-width="1.4" fill="none" stroke-linejoin="miter"/>
<line x1="592.6" y1="239.1" x2="678.6" y2="239.1" stroke="#151515" stroke-width="1.25"/>
<text x="593.7" y="238.1" font-size="8.5" letter-spacing="0" fill="#222">DQM_nWE0</text>
<text x="672.0" y="239.3" font-size="8.3" letter-spacing="0" text-anchor="end" fill="#222">16</text>
<text x="683.3" y="242.9" font-size="8.5" letter-spacing="0" fill="#222">DQM0</text>
<polygon points="564.2,243.9 587.8,243.9 592.6,248.6 587.8,253.3 564.2,253.3" stroke="#151515" stroke-width="1.4" fill="none" stroke-linejoin="miter"/>
<polyline points="582.9,243.9 587.7,248.6 582.9,253.3" stroke="#151515" stroke-width="1.4" fill="none" stroke-linejoin="miter"/>
<line x1="592.6" y1="248.6" x2="678.6" y2="248.6" stroke="#151515" stroke-width="1.25"/>
<text x="593.7" y="247.6" font-size="8.5" letter-spacing="0" fill="#222">DQM_nWE1</text>
<text x="672.0" y="248.8" font-size="8.3" letter-spacing="0" text-anchor="end" fill="#222">71</text>
<text x="683.3" y="252.4" font-size="8.5" letter-spacing="0" fill="#222">DQM1</text>
<polygon points="564.2,253.4 587.8,253.4 592.6,258.1 587.8,262.8 564.2,262.8" stroke="#151515" stroke-width="1.4" fill="none" stroke-linejoin="miter"/>
<polyline points="582.9,253.4 587.7,258.1 582.9,262.8" stroke="#151515" stroke-width="1.4" fill="none" stroke-linejoin="miter"/>
<line x1="592.6" y1="258.1" x2="678.6" y2="258.1" stroke="#151515" stroke-width="1.25"/>
<text x="593.7" y="257.1" font-size="8.5" letter-spacing="0" fill="#222">DQM_nWE2</text>
<text x="672.0" y="258.3" font-size="8.3" letter-spacing="0" text-anchor="end" fill="#222">28</text>
<text x="683.3" y="261.9" font-size="8.5" letter-spacing="0" fill="#222">DQM2</text>
<polygon points="564.2,262.9 587.8,262.9 592.6,267.6 587.8,272.3 564.2,272.3" stroke="#151515" stroke-width="1.4" fill="none" stroke-linejoin="miter"/>
<polyline points="582.9,262.9 587.7,267.6 582.9,272.3" stroke="#151515" stroke-width="1.4" fill="none" stroke-linejoin="miter"/>
<line x1="592.6" y1="267.6" x2="678.6" y2="267.6" stroke="#151515" stroke-width="1.25"/>
<text x="593.7" y="266.6" font-size="8.5" letter-spacing="0" fill="#222">DQM_nWE3</text>
<text x="672.0" y="267.8" font-size="8.3" letter-spacing="0" text-anchor="end" fill="#222">59</text>
<text x="683.3" y="271.4" font-size="8.5" letter-spacing="0" fill="#222">DQM3</text>
<polygon points="564.2,281.9 587.8,281.9 592.6,286.6 587.8,291.3 564.2,291.3" stroke="#151515" stroke-width="1.4" fill="none" stroke-linejoin="miter"/>
<polyline points="582.9,281.9 587.7,286.6 582.9,291.3" stroke="#151515" stroke-width="1.4" fill="none" stroke-linejoin="miter"/>
<line x1="592.6" y1="286.6" x2="672.4" y2="286.6" stroke="#151515" stroke-width="1.25"/>
<circle cx="675.6" cy="286.6" r="3.2" fill="#fff" stroke="#222" stroke-width="1"/>
<text x="593.7" y="284.8" font-size="8.5" letter-spacing="0" fill="#222">nSDWE</text>
<text x="672.0" y="286.8" font-size="8.3" letter-spacing="0" text-anchor="end" fill="#222">17</text>
<text x="683.3" y="290.4" font-size="8.5" letter-spacing="0" fill="#222">WE</text>
<polygon points="564.2,291.4 587.8,291.4 592.6,296.1 587.8,300.8 564.2,300.8" stroke="#151515" stroke-width="1.4" fill="none" stroke-linejoin="miter"/>
<polyline points="582.9,291.4 587.7,296.1 582.9,300.8" stroke="#151515" stroke-width="1.4" fill="none" stroke-linejoin="miter"/>
<line x1="592.6" y1="296.1" x2="672.4" y2="296.1" stroke="#151515" stroke-width="1.25"/>
<circle cx="675.6" cy="296.1" r="3.2" fill="#fff" stroke="#222" stroke-width="1"/>
<text x="593.7" y="294.3" font-size="8.5" letter-spacing="0" fill="#222">nSDCAS</text>
<text x="672.0" y="296.3" font-size="8.3" letter-spacing="0" text-anchor="end" fill="#222">18</text>
<text x="683.3" y="299.9" font-size="8.5" letter-spacing="0" fill="#222">CAS</text>
<polygon points="564.2,300.9 587.8,300.9 592.6,305.6 587.8,310.3 564.2,310.3" stroke="#151515" stroke-width="1.4" fill="none" stroke-linejoin="miter"/>
<polyline points="582.9,300.9 587.7,305.6 582.9,310.3" stroke="#151515" stroke-width="1.4" fill="none" stroke-linejoin="miter"/>
<line x1="592.6" y1="305.6" x2="672.4" y2="305.6" stroke="#151515" stroke-width="1.25"/>
<circle cx="675.6" cy="305.6" r="3.2" fill="#fff" stroke="#222" stroke-width="1"/>
<text x="593.7" y="303.8" font-size="8.5" letter-spacing="0" fill="#222">nSDRAS</text>
<text x="672.0" y="305.8" font-size="8.3" letter-spacing="0" text-anchor="end" fill="#222">19</text>
<text x="683.3" y="309.4" font-size="8.5" letter-spacing="0" fill="#222">RAS</text>
<polygon points="564.2,310.4 587.8,310.4 592.6,315.1 587.8,319.8 564.2,319.8" stroke="#151515" stroke-width="1.4" fill="none" stroke-linejoin="miter"/>
<polyline points="582.9,310.4 587.7,315.1 582.9,319.8" stroke="#151515" stroke-width="1.4" fill="none" stroke-linejoin="miter"/>
<line x1="592.6" y1="315.1" x2="672.4" y2="315.1" stroke="#151515" stroke-width="1.25"/>
<circle cx="675.6" cy="315.1" r="3.2" fill="#fff" stroke="#222" stroke-width="1"/>
<text x="593.7" y="313.3" font-size="8.5" letter-spacing="0" fill="#222">nSDRMCS1</text>
<text x="672.0" y="315.3" font-size="8.3" letter-spacing="0" text-anchor="end" fill="#222">20</text>
<text x="683.3" y="318.9" font-size="8.5" letter-spacing="0" fill="#222">CS</text>
<polygon points="564.2,329.4 587.8,329.4 592.6,334.1 587.8,338.8 564.2,338.8" stroke="#151515" stroke-width="1.4" fill="none" stroke-linejoin="miter"/>
<polyline points="582.9,329.4 587.7,334.1 582.9,338.8" stroke="#151515" stroke-width="1.4" fill="none" stroke-linejoin="miter"/>
<line x1="592.6" y1="334.1" x2="678.6" y2="334.1" stroke="#151515" stroke-width="1.25"/>
<text x="603.0" y="331.5" font-size="8.5" letter-spacing="0" fill="#222">SDCLK1</text>
<text x="672.0" y="334.3" font-size="8.3" letter-spacing="0" text-anchor="end" fill="#222">68</text>
<text x="683.3" y="337.9" font-size="8.5" letter-spacing="0" fill="#222">CLK</text>
<line x1="602.4" y1="353.1" x2="612.0" y2="353.1" stroke="#151515" stroke-width="1.25"/>
<polyline points="612.0,353.1 615.0,349.8 620.7,356.4 626.4,349.8 632.4,356.4 638.1,349.8 640.9,353.1" stroke="#151515" stroke-width="1.25" fill="none" stroke-linejoin="miter"/>
<line x1="640.9" y1="353.1" x2="678.6" y2="353.1" stroke="#151515" stroke-width="1.25"/>
<polygon points="599.8,351.2 601.8,343.4 605.8,351.2" stroke="#151515" stroke-width="1.25" fill="#fff" stroke-linejoin="miter"/>
<line x1="601.8" y1="351.2" x2="602.4" y2="353.1" stroke="#151515" stroke-width="1.25"/>
<text x="574.6" y="351.7" font-size="8.5" letter-spacing="0" fill="#222">VDD</text>
<text x="641.5" y="351.7" font-size="8.5" letter-spacing="0" fill="#222">1K</text>
<text x="640.9" y="360.5" font-size="8.5" letter-spacing="0" fill="#222">R77</text>
<text x="662.5" y="352.9" font-size="8.3" letter-spacing="0" fill="#222">67</text>
<text x="683.3" y="356.9" font-size="8.5" letter-spacing="0" fill="#222">CKE</text>
<line x1="669.5" y1="372.1" x2="678.6" y2="372.1" stroke="#151515" stroke-width="1.25"/>
<line x1="666.0" y1="368.6" x2="673.0" y2="375.6" stroke="#151515" stroke-width="1.25"/>
<line x1="666.0" y1="375.6" x2="673.0" y2="368.6" stroke="#151515" stroke-width="1.25"/>
<text x="663.0" y="372.5" font-size="8.3" letter-spacing="0" fill="#222">73</text>
<text x="683.9" y="376.3" font-size="8.5" letter-spacing="0" fill="#222">NC1</text>
<line x1="669.5" y1="381.6" x2="678.6" y2="381.6" stroke="#151515" stroke-width="1.25"/>
<line x1="666.0" y1="378.1" x2="673.0" y2="385.1" stroke="#151515" stroke-width="1.25"/>
<line x1="666.0" y1="385.1" x2="673.0" y2="378.1" stroke="#151515" stroke-width="1.25"/>
<text x="663.0" y="382.0" font-size="8.3" letter-spacing="0" fill="#222">70</text>
<text x="683.9" y="385.8" font-size="8.5" letter-spacing="0" fill="#222">NC2</text>
<line x1="669.5" y1="391.1" x2="678.6" y2="391.1" stroke="#151515" stroke-width="1.25"/>
<line x1="666.0" y1="387.6" x2="673.0" y2="394.6" stroke="#151515" stroke-width="1.25"/>
<line x1="666.0" y1="394.6" x2="673.0" y2="387.6" stroke="#151515" stroke-width="1.25"/>
<text x="663.0" y="391.5" font-size="8.3" letter-spacing="0" fill="#222">57</text>
<text x="683.9" y="395.3" font-size="8.5" letter-spacing="0" fill="#222">NC3</text>
<line x1="669.5" y1="400.6" x2="678.6" y2="400.6" stroke="#151515" stroke-width="1.25"/>
<line x1="666.0" y1="397.1" x2="673.0" y2="404.1" stroke="#151515" stroke-width="1.25"/>
<line x1="666.0" y1="404.1" x2="673.0" y2="397.1" stroke="#151515" stroke-width="1.25"/>
<text x="663.0" y="401.0" font-size="8.3" letter-spacing="0" fill="#222">30</text>
<text x="683.9" y="404.8" font-size="8.5" letter-spacing="0" fill="#222">NC4</text>
<line x1="669.5" y1="410.1" x2="678.6" y2="410.1" stroke="#151515" stroke-width="1.25"/>
<line x1="666.0" y1="406.6" x2="673.0" y2="413.6" stroke="#151515" stroke-width="1.25"/>
<line x1="666.0" y1="413.6" x2="673.0" y2="406.6" stroke="#151515" stroke-width="1.25"/>
<text x="663.0" y="410.5" font-size="8.3" letter-spacing="0" fill="#222">14</text>
<text x="683.9" y="414.3" font-size="8.5" letter-spacing="0" fill="#222">NC5</text>
<line x1="974.0" y1="0.0" x2="974.0" y2="391.4" stroke="#151515" stroke-width="2.7"/>
<line x1="879.0" y1="77.6" x2="964.0" y2="77.6" stroke="#151515" stroke-width="1.25"/>
<line x1="964.0" y1="77.6" x2="974.0" y2="68.0" stroke="#151515" stroke-width="1.25"/>
<text x="873.5" y="81.8" font-size="8.5" letter-spacing="0" text-anchor="end" fill="#222">DQ0</text>
<text x="885.4" y="77.4" font-size="8.3" letter-spacing="0" fill="#222">2</text>
<text x="918.9" y="75.6" font-size="8.5" letter-spacing="0.25" fill="#222">DAT0</text>
<line x1="879.0" y1="87.1" x2="964.0" y2="87.1" stroke="#151515" stroke-width="1.25"/>
<line x1="964.0" y1="87.1" x2="974.0" y2="77.5" stroke="#151515" stroke-width="1.25"/>
<text x="873.5" y="91.3" font-size="8.5" letter-spacing="0" text-anchor="end" fill="#222">DQ1</text>
<text x="885.4" y="86.9" font-size="8.3" letter-spacing="0" fill="#222">4</text>
<text x="918.9" y="85.1" font-size="8.5" letter-spacing="0.25" fill="#222">DAT1</text>
<line x1="879.0" y1="96.6" x2="964.0" y2="96.6" stroke="#151515" stroke-width="1.25"/>
<line x1="964.0" y1="96.6" x2="974.0" y2="87.0" stroke="#151515" stroke-width="1.25"/>
<text x="873.5" y="100.8" font-size="8.5" letter-spacing="0" text-anchor="end" fill="#222">DQ2</text>
<text x="885.4" y="96.4" font-size="8.3" letter-spacing="0" fill="#222">5</text>
<text x="918.9" y="94.6" font-size="8.5" letter-spacing="0.25" fill="#222">DAT2</text>
<line x1="879.0" y1="106.1" x2="964.0" y2="106.1" stroke="#151515" stroke-width="1.25"/>
<line x1="964.0" y1="106.1" x2="974.0" y2="96.5" stroke="#151515" stroke-width="1.25"/>
<text x="873.5" y="110.3" font-size="8.5" letter-spacing="0" text-anchor="end" fill="#222">DQ3</text>
<text x="885.4" y="105.9" font-size="8.3" letter-spacing="0" fill="#222">7</text>
<text x="918.9" y="104.1" font-size="8.5" letter-spacing="0.25" fill="#222">DAT3</text>
<line x1="879.0" y1="115.6" x2="964.0" y2="115.6" stroke="#151515" stroke-width="1.25"/>
<line x1="964.0" y1="115.6" x2="974.0" y2="106.0" stroke="#151515" stroke-width="1.25"/>
<text x="873.5" y="119.8" font-size="8.5" letter-spacing="0" text-anchor="end" fill="#222">DQ4</text>
<text x="885.4" y="115.4" font-size="8.3" letter-spacing="0" fill="#222">8</text>
<text x="918.9" y="113.6" font-size="8.5" letter-spacing="0.25" fill="#222">DAT4</text>
<line x1="879.0" y1="125.1" x2="964.0" y2="125.1" stroke="#151515" stroke-width="1.25"/>
<line x1="964.0" y1="125.1" x2="974.0" y2="115.5" stroke="#151515" stroke-width="1.25"/>
<text x="873.5" y="129.3" font-size="8.5" letter-spacing="0" text-anchor="end" fill="#222">DQ5</text>
<text x="885.4" y="124.9" font-size="8.3" letter-spacing="0" fill="#222">10</text>
<text x="918.9" y="123.1" font-size="8.5" letter-spacing="0.25" fill="#222">DAT5</text>
<line x1="879.0" y1="134.6" x2="964.0" y2="134.6" stroke="#151515" stroke-width="1.25"/>
<line x1="964.0" y1="134.6" x2="974.0" y2="125.0" stroke="#151515" stroke-width="1.25"/>
<text x="873.5" y="138.8" font-size="8.5" letter-spacing="0" text-anchor="end" fill="#222">DQ6</text>
<text x="885.4" y="134.4" font-size="8.3" letter-spacing="0" fill="#222">11</text>
<text x="918.9" y="132.6" font-size="8.5" letter-spacing="0.25" fill="#222">DAT6</text>
<line x1="879.0" y1="144.1" x2="964.0" y2="144.1" stroke="#151515" stroke-width="1.25"/>
<line x1="964.0" y1="144.1" x2="974.0" y2="134.5" stroke="#151515" stroke-width="1.25"/>
<text x="873.5" y="148.3" font-size="8.5" letter-spacing="0" text-anchor="end" fill="#222">DQ7</text>
<text x="885.4" y="143.9" font-size="8.3" letter-spacing="0" fill="#222">13</text>
<text x="918.9" y="142.1" font-size="8.5" letter-spacing="0.25" fill="#222">DAT7</text>
<line x1="879.0" y1="163.1" x2="964.0" y2="163.1" stroke="#151515" stroke-width="1.25"/>
<line x1="964.0" y1="163.1" x2="974.0" y2="153.5" stroke="#151515" stroke-width="1.25"/>
<text x="873.5" y="167.3" font-size="8.5" letter-spacing="0" text-anchor="end" fill="#222">DQ8</text>
<text x="885.4" y="162.9" font-size="8.3" letter-spacing="0" fill="#222">74</text>
<text x="918.9" y="161.1" font-size="8.5" letter-spacing="0.25" fill="#222">DAT8</text>
<line x1="879.0" y1="172.6" x2="964.0" y2="172.6" stroke="#151515" stroke-width="1.25"/>
<line x1="964.0" y1="172.6" x2="974.0" y2="163.0" stroke="#151515" stroke-width="1.25"/>
<text x="873.5" y="176.8" font-size="8.5" letter-spacing="0" text-anchor="end" fill="#222">DQ9</text>
<text x="885.4" y="172.4" font-size="8.3" letter-spacing="0" fill="#222">76</text>
<text x="918.9" y="170.6" font-size="8.5" letter-spacing="0.25" fill="#222">DAT9</text>
<line x1="879.0" y1="182.1" x2="964.0" y2="182.1" stroke="#151515" stroke-width="1.25"/>
<line x1="964.0" y1="182.1" x2="974.0" y2="172.5" stroke="#151515" stroke-width="1.25"/>
<text x="873.5" y="186.3" font-size="8.5" letter-spacing="0" text-anchor="end" fill="#222">DQ10</text>
<text x="885.4" y="181.9" font-size="8.3" letter-spacing="0" fill="#222">77</text>
<text x="918.9" y="180.1" font-size="8.5" letter-spacing="0.25" fill="#222">DAT10</text>
<line x1="879.0" y1="191.6" x2="964.0" y2="191.6" stroke="#151515" stroke-width="1.25"/>
<line x1="964.0" y1="191.6" x2="974.0" y2="182.0" stroke="#151515" stroke-width="1.25"/>
<text x="873.5" y="195.8" font-size="8.5" letter-spacing="0" text-anchor="end" fill="#222">DQ11</text>
<text x="885.4" y="191.4" font-size="8.3" letter-spacing="0" fill="#222">79</text>
<text x="918.9" y="189.6" font-size="8.5" letter-spacing="0.25" fill="#222">DAT11</text>
<line x1="879.0" y1="201.1" x2="964.0" y2="201.1" stroke="#151515" stroke-width="1.25"/>
<line x1="964.0" y1="201.1" x2="974.0" y2="191.5" stroke="#151515" stroke-width="1.25"/>
<text x="873.5" y="205.3" font-size="8.5" letter-spacing="0" text-anchor="end" fill="#222">DQ12</text>
<text x="885.4" y="200.9" font-size="8.3" letter-spacing="0" fill="#222">80</text>
<text x="918.9" y="199.1" font-size="8.5" letter-spacing="0.25" fill="#222">DAT12</text>
<line x1="879.0" y1="210.6" x2="964.0" y2="210.6" stroke="#151515" stroke-width="1.25"/>
<line x1="964.0" y1="210.6" x2="974.0" y2="201.0" stroke="#151515" stroke-width="1.25"/>
<text x="873.5" y="214.8" font-size="8.5" letter-spacing="0" text-anchor="end" fill="#222">DQ13</text>
<text x="885.4" y="210.4" font-size="8.3" letter-spacing="0" fill="#222">82</text>
<text x="918.9" y="208.6" font-size="8.5" letter-spacing="0.25" fill="#222">DAT13</text>
<line x1="879.0" y1="220.1" x2="964.0" y2="220.1" stroke="#151515" stroke-width="1.25"/>
<line x1="964.0" y1="220.1" x2="974.0" y2="210.5" stroke="#151515" stroke-width="1.25"/>
<text x="873.5" y="224.3" font-size="8.5" letter-spacing="0" text-anchor="end" fill="#222">DQ14</text>
<text x="885.4" y="219.9" font-size="8.3" letter-spacing="0" fill="#222">83</text>
<text x="918.9" y="218.1" font-size="8.5" letter-spacing="0.25" fill="#222">DAT14</text>
<line x1="879.0" y1="229.6" x2="964.0" y2="229.6" stroke="#151515" stroke-width="1.25"/>
<line x1="964.0" y1="229.6" x2="974.0" y2="220.0" stroke="#151515" stroke-width="1.25"/>
<text x="873.5" y="233.8" font-size="8.5" letter-spacing="0" text-anchor="end" fill="#222">DQ15</text>
<text x="885.4" y="229.4" font-size="8.3" letter-spacing="0" fill="#222">85</text>
<text x="918.9" y="227.6" font-size="8.5" letter-spacing="0.25" fill="#222">DAT15</text>
<line x1="879.0" y1="248.6" x2="964.0" y2="248.6" stroke="#151515" stroke-width="1.25"/>
<line x1="964.0" y1="248.6" x2="974.0" y2="239.0" stroke="#151515" stroke-width="1.25"/>
<text x="873.5" y="252.8" font-size="8.5" letter-spacing="0" text-anchor="end" fill="#222">DQ16</text>
<text x="885.4" y="248.4" font-size="8.3" letter-spacing="0" fill="#222">31</text>
<text x="918.9" y="246.6" font-size="8.5" letter-spacing="0.25" fill="#222">DAT16</text>
<line x1="879.0" y1="258.1" x2="964.0" y2="258.1" stroke="#151515" stroke-width="1.25"/>
<line x1="964.0" y1="258.1" x2="974.0" y2="248.5" stroke="#151515" stroke-width="1.25"/>
<text x="873.5" y="262.3" font-size="8.5" letter-spacing="0" text-anchor="end" fill="#222">DQ17</text>
<text x="885.4" y="257.9" font-size="8.3" letter-spacing="0" fill="#222">33</text>
<text x="918.9" y="256.1" font-size="8.5" letter-spacing="0.25" fill="#222">DAT17</text>
<line x1="879.0" y1="267.6" x2="964.0" y2="267.6" stroke="#151515" stroke-width="1.25"/>
<line x1="964.0" y1="267.6" x2="974.0" y2="258.0" stroke="#151515" stroke-width="1.25"/>
<text x="873.5" y="271.8" font-size="8.5" letter-spacing="0" text-anchor="end" fill="#222">DQ18</text>
<text x="885.4" y="267.4" font-size="8.3" letter-spacing="0" fill="#222">34</text>
<text x="918.9" y="265.6" font-size="8.5" letter-spacing="0.25" fill="#222">DAT18</text>
<line x1="879.0" y1="277.1" x2="964.0" y2="277.1" stroke="#151515" stroke-width="1.25"/>
<line x1="964.0" y1="277.1" x2="974.0" y2="267.5" stroke="#151515" stroke-width="1.25"/>
<text x="873.5" y="281.3" font-size="8.5" letter-spacing="0" text-anchor="end" fill="#222">DQ19</text>
<text x="885.4" y="276.9" font-size="8.3" letter-spacing="0" fill="#222">36</text>
<text x="918.9" y="275.1" font-size="8.5" letter-spacing="0.25" fill="#222">DAT19</text>
<line x1="879.0" y1="286.6" x2="964.0" y2="286.6" stroke="#151515" stroke-width="1.25"/>
<line x1="964.0" y1="286.6" x2="974.0" y2="277.0" stroke="#151515" stroke-width="1.25"/>
<text x="873.5" y="290.8" font-size="8.5" letter-spacing="0" text-anchor="end" fill="#222">DQ20</text>
<text x="885.4" y="286.4" font-size="8.3" letter-spacing="0" fill="#222">37</text>
<text x="918.9" y="284.6" font-size="8.5" letter-spacing="0.25" fill="#222">DAT20</text>
<line x1="879.0" y1="296.1" x2="964.0" y2="296.1" stroke="#151515" stroke-width="1.25"/>
<line x1="964.0" y1="296.1" x2="974.0" y2="286.5" stroke="#151515" stroke-width="1.25"/>
<text x="873.5" y="300.3" font-size="8.5" letter-spacing="0" text-anchor="end" fill="#222">DQ21</text>
<text x="885.4" y="295.9" font-size="8.3" letter-spacing="0" fill="#222">39</text>
<text x="918.9" y="294.1" font-size="8.5" letter-spacing="0.25" fill="#222">DAT21</text>
<line x1="879.0" y1="305.6" x2="964.0" y2="305.6" stroke="#151515" stroke-width="1.25"/>
<line x1="964.0" y1="305.6" x2="974.0" y2="296.0" stroke="#151515" stroke-width="1.25"/>
<text x="873.5" y="309.8" font-size="8.5" letter-spacing="0" text-anchor="end" fill="#222">DQ22</text>
<text x="885.4" y="305.4" font-size="8.3" letter-spacing="0" fill="#222">40</text>
<text x="918.9" y="303.6" font-size="8.5" letter-spacing="0.25" fill="#222">DAT22</text>
<line x1="879.0" y1="315.1" x2="964.0" y2="315.1" stroke="#151515" stroke-width="1.25"/>
<line x1="964.0" y1="315.1" x2="974.0" y2="305.5" stroke="#151515" stroke-width="1.25"/>
<text x="873.5" y="319.3" font-size="8.5" letter-spacing="0" text-anchor="end" fill="#222">DQ23</text>
<text x="885.4" y="314.9" font-size="8.3" letter-spacing="0" fill="#222">42</text>
<text x="918.9" y="313.1" font-size="8.5" letter-spacing="0.25" fill="#222">DAT23</text>
<line x1="879.0" y1="334.1" x2="964.0" y2="334.1" stroke="#151515" stroke-width="1.25"/>
<line x1="964.0" y1="334.1" x2="974.0" y2="324.5" stroke="#151515" stroke-width="1.25"/>
<text x="873.5" y="338.3" font-size="8.5" letter-spacing="0" text-anchor="end" fill="#222">DQ24</text>
<text x="885.4" y="333.9" font-size="8.3" letter-spacing="0" fill="#222">45</text>
<text x="918.9" y="332.1" font-size="8.5" letter-spacing="0.25" fill="#222">DAT24</text>
<line x1="879.0" y1="343.6" x2="964.0" y2="343.6" stroke="#151515" stroke-width="1.25"/>
<line x1="964.0" y1="343.6" x2="974.0" y2="334.0" stroke="#151515" stroke-width="1.25"/>
<text x="873.5" y="347.8" font-size="8.5" letter-spacing="0" text-anchor="end" fill="#222">DQ25</text>
<text x="885.4" y="343.4" font-size="8.3" letter-spacing="0" fill="#222">47</text>
<text x="918.9" y="341.6" font-size="8.5" letter-spacing="0.25" fill="#222">DAT25</text>
<line x1="879.0" y1="353.1" x2="964.0" y2="353.1" stroke="#151515" stroke-width="1.25"/>
<line x1="964.0" y1="353.1" x2="974.0" y2="343.5" stroke="#151515" stroke-width="1.25"/>
<text x="873.5" y="357.3" font-size="8.5" letter-spacing="0" text-anchor="end" fill="#222">DQ26</text>
<text x="885.4" y="352.9" font-size="8.3" letter-spacing="0" fill="#222">48</text>
<text x="918.9" y="351.1" font-size="8.5" letter-spacing="0.25" fill="#222">DAT26</text>
<line x1="879.0" y1="362.6" x2="964.0" y2="362.6" stroke="#151515" stroke-width="1.25"/>
<line x1="964.0" y1="362.6" x2="974.0" y2="353.0" stroke="#151515" stroke-width="1.25"/>
<text x="873.5" y="366.8" font-size="8.5" letter-spacing="0" text-anchor="end" fill="#222">DQ27</text>
<text x="885.4" y="362.4" font-size="8.3" letter-spacing="0" fill="#222">50</text>
<text x="918.9" y="360.6" font-size="8.5" letter-spacing="0.25" fill="#222">DAT27</text>
<line x1="879.0" y1="372.1" x2="964.0" y2="372.1" stroke="#151515" stroke-width="1.25"/>
<line x1="964.0" y1="372.1" x2="974.0" y2="362.5" stroke="#151515" stroke-width="1.25"/>
<text x="873.5" y="376.3" font-size="8.5" letter-spacing="0" text-anchor="end" fill="#222">DQ28</text>
<text x="885.4" y="371.9" font-size="8.3" letter-spacing="0" fill="#222">51</text>
<text x="918.9" y="370.1" font-size="8.5" letter-spacing="0.25" fill="#222">DAT28</text>
<line x1="879.0" y1="381.6" x2="964.0" y2="381.6" stroke="#151515" stroke-width="1.25"/>
<line x1="964.0" y1="381.6" x2="974.0" y2="372.0" stroke="#151515" stroke-width="1.25"/>
<text x="873.5" y="385.8" font-size="8.5" letter-spacing="0" text-anchor="end" fill="#222">DQ29</text>
<text x="885.4" y="381.4" font-size="8.3" letter-spacing="0" fill="#222">53</text>
<text x="918.9" y="379.6" font-size="8.5" letter-spacing="0.25" fill="#222">DAT29</text>
<line x1="879.0" y1="391.1" x2="964.0" y2="391.1" stroke="#151515" stroke-width="1.25"/>
<line x1="964.0" y1="391.1" x2="974.0" y2="381.5" stroke="#151515" stroke-width="1.25"/>
<text x="873.5" y="395.3" font-size="8.5" letter-spacing="0" text-anchor="end" fill="#222">DQ30</text>
<text x="885.4" y="390.9" font-size="8.3" letter-spacing="0" fill="#222">54</text>
<text x="918.9" y="389.1" font-size="8.5" letter-spacing="0.25" fill="#222">DAT30</text>
<line x1="879.0" y1="400.6" x2="964.0" y2="400.6" stroke="#151515" stroke-width="1.25"/>
<line x1="964.0" y1="400.6" x2="974.0" y2="391.0" stroke="#151515" stroke-width="1.25"/>
<text x="873.5" y="404.8" font-size="8.5" letter-spacing="0" text-anchor="end" fill="#222">DQ31</text>
<text x="885.4" y="400.4" font-size="8.3" letter-spacing="0" fill="#222">56</text>
<text x="918.9" y="398.6" font-size="8.5" letter-spacing="0.25" fill="#222">DAT31</text>
<line x1="707.6" y1="49.2" x2="707.6" y2="20.5" stroke="#151515" stroke-width="1.25"/>
<text transform="translate(706.4,42.8) rotate(-90)" font-size="8.3" letter-spacing="0" fill="#222">1</text>
<text transform="translate(710.6,78.0) rotate(-90)" font-size="8.5" letter-spacing="0.2" fill="#222">VDD1</text>
<line x1="717.1" y1="49.2" x2="717.1" y2="20.5" stroke="#151515" stroke-width="1.25"/>
<text transform="translate(715.9,42.8) rotate(-90)" font-size="8.3" letter-spacing="0" fill="#222">15</text>
<text transform="translate(720.1,78.0) rotate(-90)" font-size="8.5" letter-spacing="0.2" fill="#222">VDD2</text>
<circle cx="717.1" cy="20.5" r="2.3" fill="#111"/>
<line x1="726.6" y1="49.2" x2="726.6" y2="20.5" stroke="#151515" stroke-width="1.25"/>
<text transform="translate(725.4,42.8) rotate(-90)" font-size="8.3" letter-spacing="0" fill="#222">43</text>
<text transform="translate(729.6,78.0) rotate(-90)" font-size="8.5" letter-spacing="0.2" fill="#222">VDD3</text>
<circle cx="726.6" cy="20.5" r="2.3" fill="#111"/>
<line x1="736.1" y1="49.2" x2="736.1" y2="20.5" stroke="#151515" stroke-width="1.25"/>
<text transform="translate(734.9,42.8) rotate(-90)" font-size="8.3" letter-spacing="0" fill="#222">29</text>
<text transform="translate(739.1,78.0) rotate(-90)" font-size="8.5" letter-spacing="0.2" fill="#222">VDD4</text>
<circle cx="736.1" cy="20.5" r="2.3" fill="#111"/>
<line x1="764.6" y1="49.2" x2="764.6" y2="20.5" stroke="#151515" stroke-width="1.25"/>
<text transform="translate(763.4,42.8) rotate(-90)" font-size="8.3" letter-spacing="0" fill="#222">3</text>
<text transform="translate(767.6,84.5) rotate(-90)" font-size="8.5" letter-spacing="0.2" fill="#222">VDDQ1</text>
<circle cx="764.6" cy="20.5" r="2.3" fill="#111"/>
<line x1="774.1" y1="49.2" x2="774.1" y2="20.5" stroke="#151515" stroke-width="1.25"/>
<text transform="translate(772.9,42.8) rotate(-90)" font-size="8.3" letter-spacing="0" fill="#222">9</text>
<text transform="translate(777.1,84.5) rotate(-90)" font-size="8.5" letter-spacing="0.2" fill="#222">VDDQ2</text>
<circle cx="774.1" cy="20.5" r="2.3" fill="#111"/>
<line x1="783.6" y1="49.2" x2="783.6" y2="20.5" stroke="#151515" stroke-width="1.25"/>
<text transform="translate(782.4,42.8) rotate(-90)" font-size="8.3" letter-spacing="0" fill="#222">81</text>
<text transform="translate(786.6,84.5) rotate(-90)" font-size="8.5" letter-spacing="0.2" fill="#222">VDDQ3</text>
<circle cx="783.6" cy="20.5" r="2.3" fill="#111"/>
<line x1="793.1" y1="49.2" x2="793.1" y2="20.5" stroke="#151515" stroke-width="1.25"/>
<text transform="translate(791.9,42.8) rotate(-90)" font-size="8.3" letter-spacing="0" fill="#222">75</text>
<text transform="translate(796.1,84.5) rotate(-90)" font-size="8.5" letter-spacing="0.2" fill="#222">VDDQ4</text>
<circle cx="793.1" cy="20.5" r="2.3" fill="#111"/>
<line x1="802.6" y1="49.2" x2="802.6" y2="20.5" stroke="#151515" stroke-width="1.25"/>
<text transform="translate(801.4,42.8) rotate(-90)" font-size="8.3" letter-spacing="0" fill="#222">55</text>
<text transform="translate(805.6,84.5) rotate(-90)" font-size="8.5" letter-spacing="0.2" fill="#222">VDDQ5</text>
<circle cx="802.6" cy="20.5" r="2.3" fill="#111"/>
<line x1="812.1" y1="49.2" x2="812.1" y2="20.5" stroke="#151515" stroke-width="1.25"/>
<text transform="translate(810.9,42.8) rotate(-90)" font-size="8.3" letter-spacing="0" fill="#222">41</text>
<text transform="translate(815.1,84.5) rotate(-90)" font-size="8.5" letter-spacing="0.2" fill="#222">VDDQ6</text>
<circle cx="812.1" cy="20.5" r="2.3" fill="#111"/>
<line x1="821.6" y1="49.2" x2="821.6" y2="20.5" stroke="#151515" stroke-width="1.25"/>
<text transform="translate(820.4,42.8) rotate(-90)" font-size="8.3" letter-spacing="0" fill="#222">49</text>
<text transform="translate(824.6,84.5) rotate(-90)" font-size="8.5" letter-spacing="0.2" fill="#222">VDDQ7</text>
<circle cx="821.6" cy="20.5" r="2.3" fill="#111"/>
<line x1="831.1" y1="49.2" x2="831.1" y2="20.5" stroke="#151515" stroke-width="1.25"/>
<text transform="translate(829.9,42.8) rotate(-90)" font-size="8.3" letter-spacing="0" fill="#222">35</text>
<text transform="translate(834.1,84.5) rotate(-90)" font-size="8.5" letter-spacing="0.2" fill="#222">VDDQ8</text>
<line x1="707.6" y1="20.5" x2="831.1" y2="20.5" stroke="#151515" stroke-width="1.25"/>
<line x1="764.6" y1="20.5" x2="764.6" y2="9.3" stroke="#151515" stroke-width="1.25"/>
<polygon points="761.6,9.3 764.6,2.0 767.6,9.3" stroke="#151515" stroke-width="1.25" fill="#fff" stroke-linejoin="miter"/>
<line x1="716.9" y1="438.6" x2="716.9" y2="467.2" stroke="#151515" stroke-width="1.25"/>
<text transform="translate(715.7,457.0) rotate(-90)" font-size="8.3" letter-spacing="0" fill="#222">44</text>
<text transform="translate(719.9,434.0) rotate(-90)" font-size="8.5" letter-spacing="0.2" fill="#222">VSS1</text>
<line x1="726.4" y1="438.6" x2="726.4" y2="467.2" stroke="#151515" stroke-width="1.25"/>
<text transform="translate(725.2,457.0) rotate(-90)" font-size="8.3" letter-spacing="0" fill="#222">58</text>
<text transform="translate(729.4,434.0) rotate(-90)" font-size="8.5" letter-spacing="0.2" fill="#222">VSS2</text>
<circle cx="726.4" cy="467.2" r="2.3" fill="#111"/>
<line x1="735.9" y1="438.6" x2="735.9" y2="467.2" stroke="#151515" stroke-width="1.25"/>
<text transform="translate(734.7,457.0) rotate(-90)" font-size="8.3" letter-spacing="0" fill="#222">72</text>
<text transform="translate(738.9,434.0) rotate(-90)" font-size="8.5" letter-spacing="0.2" fill="#222">VSS3</text>
<circle cx="735.9" cy="467.2" r="2.3" fill="#111"/>
<line x1="745.4" y1="438.6" x2="745.4" y2="467.2" stroke="#151515" stroke-width="1.25"/>
<text transform="translate(744.2,457.0) rotate(-90)" font-size="8.3" letter-spacing="0" fill="#222">86</text>
<text transform="translate(748.4,434.0) rotate(-90)" font-size="8.5" letter-spacing="0.2" fill="#222">VSS4</text>
<circle cx="745.4" cy="467.2" r="2.3" fill="#111"/>
<line x1="773.9" y1="438.6" x2="773.9" y2="467.2" stroke="#151515" stroke-width="1.25"/>
<text transform="translate(772.7,457.0) rotate(-90)" font-size="8.3" letter-spacing="0" fill="#222">12</text>
<text transform="translate(776.9,434.0) rotate(-90)" font-size="8.5" letter-spacing="0.2" fill="#222">VSSQ1</text>
<circle cx="773.9" cy="467.2" r="2.3" fill="#111"/>
<line x1="783.4" y1="438.6" x2="783.4" y2="467.2" stroke="#151515" stroke-width="1.25"/>
<text transform="translate(782.2,457.0) rotate(-90)" font-size="8.3" letter-spacing="0" fill="#222">32</text>
<text transform="translate(786.4,434.0) rotate(-90)" font-size="8.5" letter-spacing="0.2" fill="#222">VSSQ2</text>
<circle cx="783.4" cy="467.2" r="2.3" fill="#111"/>
<line x1="792.9" y1="438.6" x2="792.9" y2="467.2" stroke="#151515" stroke-width="1.25"/>
<text transform="translate(791.7,457.0) rotate(-90)" font-size="8.3" letter-spacing="0" fill="#222">38</text>
<text transform="translate(795.9,434.0) rotate(-90)" font-size="8.5" letter-spacing="0.2" fill="#222">VSSQ3</text>
<circle cx="792.9" cy="467.2" r="2.3" fill="#111"/>
<line x1="802.4" y1="438.6" x2="802.4" y2="467.2" stroke="#151515" stroke-width="1.25"/>
<text transform="translate(801.2,457.0) rotate(-90)" font-size="8.3" letter-spacing="0" fill="#222">46</text>
<text transform="translate(805.4,434.0) rotate(-90)" font-size="8.5" letter-spacing="0.2" fill="#222">VSSQ4</text>
<circle cx="802.4" cy="467.2" r="2.3" fill="#111"/>
<line x1="811.9" y1="438.6" x2="811.9" y2="467.2" stroke="#151515" stroke-width="1.25"/>
<text transform="translate(810.7,457.0) rotate(-90)" font-size="8.3" letter-spacing="0" fill="#222">84</text>
<text transform="translate(814.9,434.0) rotate(-90)" font-size="8.5" letter-spacing="0.2" fill="#222">VSSQ5</text>
<circle cx="811.9" cy="467.2" r="2.3" fill="#111"/>
<line x1="821.4" y1="438.6" x2="821.4" y2="467.2" stroke="#151515" stroke-width="1.25"/>
<text transform="translate(820.2,457.0) rotate(-90)" font-size="8.3" letter-spacing="0" fill="#222">78</text>
<text transform="translate(824.4,434.0) rotate(-90)" font-size="8.5" letter-spacing="0.2" fill="#222">VSSQ6</text>
<circle cx="821.4" cy="467.2" r="2.3" fill="#111"/>
<line x1="830.9" y1="438.6" x2="830.9" y2="467.2" stroke="#151515" stroke-width="1.25"/>
<text transform="translate(829.7,457.0) rotate(-90)" font-size="8.3" letter-spacing="0" fill="#222">52</text>
<text transform="translate(833.9,434.0) rotate(-90)" font-size="8.5" letter-spacing="0.2" fill="#222">VSSQ7</text>
<circle cx="830.9" cy="467.2" r="2.3" fill="#111"/>
<line x1="840.4" y1="438.6" x2="840.4" y2="467.2" stroke="#151515" stroke-width="1.25"/>
<text transform="translate(839.2,457.0) rotate(-90)" font-size="8.3" letter-spacing="0" fill="#222">6</text>
<text transform="translate(843.4,434.0) rotate(-90)" font-size="8.5" letter-spacing="0.2" fill="#222">VSSQ8</text>
<line x1="716.9" y1="467.2" x2="840.4" y2="467.2" stroke="#151515" stroke-width="1.25"/>
<line x1="773.9" y1="467.2" x2="773.9" y2="476.5" stroke="#151515" stroke-width="1.25"/>
<polygon points="764.9,476.5 783.0,476.5 773.9,485.8" stroke="#151515" stroke-width="1.25" fill="#fff" stroke-linejoin="miter"/>
<text x="774.2" y="493.8" font-size="6.6" letter-spacing="0.2" text-anchor="middle" class="gnd" fill="#222">GND</text>
<polyline points="1000.0,234.6 992.4,234.6 992.4,243.8 1000.0,243.8" stroke="#151515" stroke-width="1.25" fill="none" stroke-linejoin="miter"/>
<polyline points="1000.0,244.8 992.4,244.8 992.4,254.0 1000.0,254.0" stroke="#151515" stroke-width="1.25" fill="none" stroke-linejoin="miter"/>
<polyline points="1000.0,254.6 992.4,254.6 992.4,263.8 1000.0,263.8" stroke="#151515" stroke-width="1.25" fill="none" stroke-linejoin="miter"/>
<polyline points="1000.0,263.7 992.4,263.7 992.4,272.9 1000.0,272.9" stroke="#151515" stroke-width="1.25" fill="none" stroke-linejoin="miter"/>
<polyline points="1000.0,329.9 992.4,329.9 992.4,338.7 1000.0,338.7" stroke="#151515" stroke-width="1.25" fill="none" stroke-linejoin="miter"/>
<line x1="440.8" y1="514.8" x2="641.2" y2="514.8" stroke="#151515" stroke-width="1.25"/>
<text x="621.7" y="503.8" font-size="8.5" letter-spacing="0" fill="#222">U68</text>
<line x1="469.5" y1="514.8" x2="469.5" y2="486.3" stroke="#151515" stroke-width="1.25"/>
<text transform="translate(468.3,508.0) rotate(-90)" font-size="8.3" letter-spacing="0" fill="#222">1</text>
<line x1="479.0" y1="514.8" x2="479.0" y2="486.3" stroke="#151515" stroke-width="1.25"/>
<text transform="translate(477.8,508.0) rotate(-90)" font-size="8.3" letter-spacing="0" fill="#222">15</text>
<circle cx="479.0" cy="486.3" r="2.3" fill="#111"/>
<line x1="488.5" y1="514.8" x2="488.5" y2="486.3" stroke="#151515" stroke-width="1.25"/>
<text transform="translate(487.3,508.0) rotate(-90)" font-size="8.3" letter-spacing="0" fill="#222">43</text>
<circle cx="488.5" cy="486.3" r="2.3" fill="#111"/>
<line x1="498.0" y1="514.8" x2="498.0" y2="486.3" stroke="#151515" stroke-width="1.25"/>
<text transform="translate(496.8,508.0) rotate(-90)" font-size="8.3" letter-spacing="0" fill="#222">29</text>
<circle cx="498.0" cy="486.3" r="2.3" fill="#111"/>
<line x1="526.5" y1="514.8" x2="526.5" y2="486.3" stroke="#151515" stroke-width="1.25"/>
<text transform="translate(525.3,508.0) rotate(-90)" font-size="8.3" letter-spacing="0" fill="#222">3</text>
<circle cx="526.5" cy="486.3" r="2.3" fill="#111"/>
<line x1="536.0" y1="514.8" x2="536.0" y2="486.3" stroke="#151515" stroke-width="1.25"/>
<text transform="translate(534.8,508.0) rotate(-90)" font-size="8.3" letter-spacing="0" fill="#222">9</text>
<circle cx="536.0" cy="486.3" r="2.3" fill="#111"/>
<line x1="545.5" y1="514.8" x2="545.5" y2="486.3" stroke="#151515" stroke-width="1.25"/>
<text transform="translate(544.3,508.0) rotate(-90)" font-size="8.3" letter-spacing="0" fill="#222">81</text>
<circle cx="545.5" cy="486.3" r="2.3" fill="#111"/>
<line x1="555.0" y1="514.8" x2="555.0" y2="486.3" stroke="#151515" stroke-width="1.25"/>
<text transform="translate(553.8,508.0) rotate(-90)" font-size="8.3" letter-spacing="0" fill="#222">75</text>
<circle cx="555.0" cy="486.3" r="2.3" fill="#111"/>
<line x1="564.5" y1="514.8" x2="564.5" y2="486.3" stroke="#151515" stroke-width="1.25"/>
<text transform="translate(563.3,508.0) rotate(-90)" font-size="8.3" letter-spacing="0" fill="#222">55</text>
<circle cx="564.5" cy="486.3" r="2.3" fill="#111"/>
<line x1="574.0" y1="514.8" x2="574.0" y2="486.3" stroke="#151515" stroke-width="1.25"/>
<text transform="translate(572.8,508.0) rotate(-90)" font-size="8.3" letter-spacing="0" fill="#222">41</text>
<circle cx="574.0" cy="486.3" r="2.3" fill="#111"/>
<line x1="583.5" y1="514.8" x2="583.5" y2="486.3" stroke="#151515" stroke-width="1.25"/>
<text transform="translate(582.3,508.0) rotate(-90)" font-size="8.3" letter-spacing="0" fill="#222">49</text>
<circle cx="583.5" cy="486.3" r="2.3" fill="#111"/>
<line x1="593.0" y1="514.8" x2="593.0" y2="486.3" stroke="#151515" stroke-width="1.25"/>
<text transform="translate(591.8,508.0) rotate(-90)" font-size="8.3" letter-spacing="0" fill="#222">35</text>
<line x1="469.5" y1="486.3" x2="593.0" y2="486.3" stroke="#151515" stroke-width="1.25"/>
<line x1="526.5" y1="486.3" x2="526.5" y2="476.0" stroke="#151515" stroke-width="1.25"/>
<polygon points="523.5,476.0 526.5,468.6 529.5,476.0" stroke="#151515" stroke-width="1.25" fill="#fff" stroke-linejoin="miter"/>
<text x="526.5" y="466.0" font-size="8.5" letter-spacing="0" text-anchor="middle" fill="#222">VDD</text>
</svg></body></html>
